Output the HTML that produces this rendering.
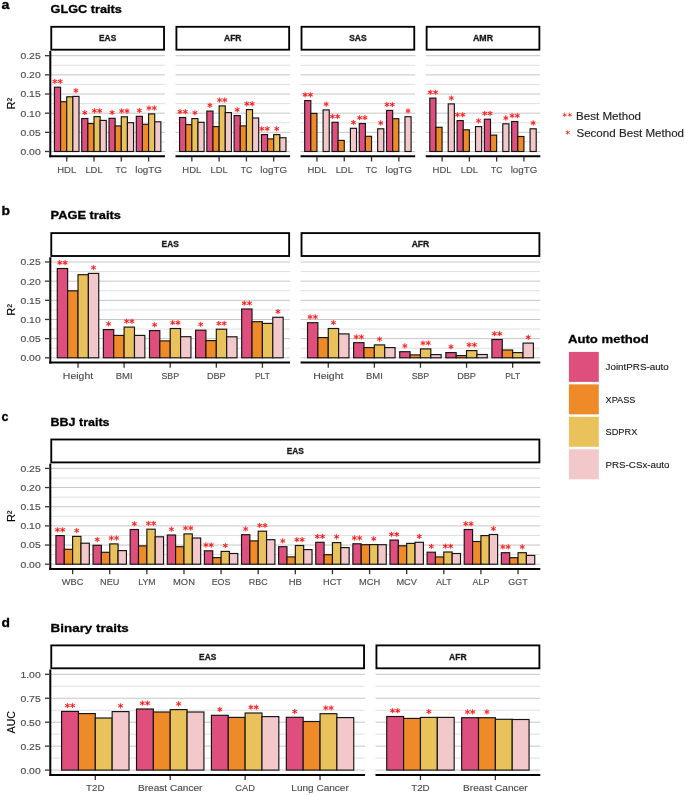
<!DOCTYPE html>
<html><head><meta charset="utf-8"><style>html,body{margin:0;padding:0;background:#fff;width:685px;height:795px;overflow:hidden}svg{display:block}</style></head>
<body><svg width="685" height="795" viewBox="0 0 685 795" font-family='"Liberation Sans", sans-serif'>
<rect width="685" height="795" fill="#fff"/>
<defs><filter id="bl" x="0" y="0" width="685" height="795" filterUnits="userSpaceOnUse"><feOffset dx="0" dy="0"/></filter></defs><g filter="url(#bl)">
<line x1="50.35" x2="164.95" y1="141.92" y2="141.92" stroke="#DCDCDC" stroke-width="0.9"/>
<line x1="50.35" x2="164.95" y1="122.76" y2="122.76" stroke="#DCDCDC" stroke-width="0.9"/>
<line x1="50.35" x2="164.95" y1="103.60" y2="103.60" stroke="#DCDCDC" stroke-width="0.9"/>
<line x1="50.35" x2="164.95" y1="84.44" y2="84.44" stroke="#DCDCDC" stroke-width="0.9"/>
<line x1="50.35" x2="164.95" y1="65.28" y2="65.28" stroke="#DCDCDC" stroke-width="0.9"/>
<line x1="50.35" x2="164.95" y1="151.50" y2="151.50" stroke="#C6C6C6" stroke-width="1.0"/>
<line x1="50.35" x2="164.95" y1="132.34" y2="132.34" stroke="#C6C6C6" stroke-width="1.0"/>
<line x1="50.35" x2="164.95" y1="113.18" y2="113.18" stroke="#C6C6C6" stroke-width="1.0"/>
<line x1="50.35" x2="164.95" y1="94.02" y2="94.02" stroke="#C6C6C6" stroke-width="1.0"/>
<line x1="50.35" x2="164.95" y1="74.86" y2="74.86" stroke="#C6C6C6" stroke-width="1.0"/>
<line x1="50.35" x2="164.95" y1="55.70" y2="55.70" stroke="#C6C6C6" stroke-width="1.0"/>
<rect x="54.44" y="87.20" width="6.14" height="64.30" fill="#DE4F7E" stroke="#141414" stroke-width="1.15"/>
<rect x="60.58" y="101.70" width="6.14" height="49.80" fill="#EE8B28" stroke="#141414" stroke-width="1.15"/>
<rect x="66.72" y="96.80" width="6.14" height="54.70" fill="#E9C25B" stroke="#141414" stroke-width="1.15"/>
<rect x="72.86" y="96.40" width="6.14" height="55.10" fill="#F2C8CB" stroke="#141414" stroke-width="1.15"/>
<line x1="66.72" x2="66.72" y1="156.30" y2="161.50" stroke="#333" stroke-width="1.3"/>
<text x="66.72" y="172.60" font-size="9.70" stroke="#4D4D4D" stroke-width="0.15" fill="#4D4D4D" text-anchor="middle" textLength="19.02" lengthAdjust="spacingAndGlyphs" >HDL</text>
<rect x="81.73" y="118.50" width="6.14" height="33.00" fill="#DE4F7E" stroke="#141414" stroke-width="1.15"/>
<rect x="87.87" y="123.50" width="6.14" height="28.00" fill="#EE8B28" stroke="#141414" stroke-width="1.15"/>
<rect x="94.01" y="116.60" width="6.14" height="34.90" fill="#E9C25B" stroke="#141414" stroke-width="1.15"/>
<rect x="100.15" y="120.40" width="6.14" height="31.10" fill="#F2C8CB" stroke="#141414" stroke-width="1.15"/>
<line x1="94.01" x2="94.01" y1="156.30" y2="161.50" stroke="#333" stroke-width="1.3"/>
<text x="94.01" y="172.60" font-size="9.70" stroke="#4D4D4D" stroke-width="0.15" fill="#4D4D4D" text-anchor="middle" textLength="17.24" lengthAdjust="spacingAndGlyphs" >LDL</text>
<rect x="109.01" y="118.30" width="6.14" height="33.20" fill="#DE4F7E" stroke="#141414" stroke-width="1.15"/>
<rect x="115.15" y="125.90" width="6.14" height="25.60" fill="#EE8B28" stroke="#141414" stroke-width="1.15"/>
<rect x="121.29" y="116.80" width="6.14" height="34.70" fill="#E9C25B" stroke="#141414" stroke-width="1.15"/>
<rect x="127.43" y="122.70" width="6.14" height="28.80" fill="#F2C8CB" stroke="#141414" stroke-width="1.15"/>
<line x1="121.29" x2="121.29" y1="156.30" y2="161.50" stroke="#333" stroke-width="1.3"/>
<text x="121.29" y="172.60" font-size="9.70" stroke="#4D4D4D" stroke-width="0.15" fill="#4D4D4D" text-anchor="middle" textLength="11.44" lengthAdjust="spacingAndGlyphs" >TC</text>
<rect x="136.30" y="116.30" width="6.14" height="35.20" fill="#DE4F7E" stroke="#141414" stroke-width="1.15"/>
<rect x="142.44" y="124.30" width="6.14" height="27.20" fill="#EE8B28" stroke="#141414" stroke-width="1.15"/>
<rect x="148.58" y="113.90" width="6.14" height="37.60" fill="#E9C25B" stroke="#141414" stroke-width="1.15"/>
<rect x="154.72" y="121.80" width="6.14" height="29.70" fill="#F2C8CB" stroke="#141414" stroke-width="1.15"/>
<line x1="148.58" x2="148.58" y1="156.30" y2="161.50" stroke="#333" stroke-width="1.3"/>
<text x="148.58" y="172.60" font-size="9.70" stroke="#4D4D4D" stroke-width="0.15" fill="#4D4D4D" text-anchor="middle" textLength="26.63" lengthAdjust="spacingAndGlyphs" >logTG</text>
<rect x="51.27" y="26.80" width="112.75" height="22.90" fill="#fff" stroke="#000" stroke-width="1.85"/>
<text x="107.65" y="41.15" font-size="8.37" font-weight="bold" stroke="#1A1A1A" stroke-width="0.3" fill="#1A1A1A" text-anchor="middle" textLength="17.20" lengthAdjust="spacingAndGlyphs" >EAS</text>
<line x1="49.35" x2="164.95" y1="156.30" y2="156.30" stroke="#000" stroke-width="2.0"/>
<line x1="50.30" x2="50.30" y1="50.90" y2="157.30" stroke="#000" stroke-width="2.0"/>
<line x1="44.95" x2="49.35" y1="151.50" y2="151.50" stroke="#333" stroke-width="1.3"/>
<text x="40.70" y="154.90" font-size="9.65" stroke="#4D4D4D" stroke-width="0.15" fill="#4D4D4D" text-anchor="end" textLength="20.26" lengthAdjust="spacingAndGlyphs" >0.00</text>
<line x1="44.95" x2="49.35" y1="132.34" y2="132.34" stroke="#333" stroke-width="1.3"/>
<text x="40.70" y="135.74" font-size="9.65" stroke="#4D4D4D" stroke-width="0.15" fill="#4D4D4D" text-anchor="end" textLength="20.26" lengthAdjust="spacingAndGlyphs" >0.05</text>
<line x1="44.95" x2="49.35" y1="113.18" y2="113.18" stroke="#333" stroke-width="1.3"/>
<text x="40.70" y="116.58" font-size="9.65" stroke="#4D4D4D" stroke-width="0.15" fill="#4D4D4D" text-anchor="end" textLength="20.26" lengthAdjust="spacingAndGlyphs" >0.10</text>
<line x1="44.95" x2="49.35" y1="94.02" y2="94.02" stroke="#333" stroke-width="1.3"/>
<text x="40.70" y="97.42" font-size="9.65" stroke="#4D4D4D" stroke-width="0.15" fill="#4D4D4D" text-anchor="end" textLength="20.26" lengthAdjust="spacingAndGlyphs" >0.15</text>
<line x1="44.95" x2="49.35" y1="74.86" y2="74.86" stroke="#333" stroke-width="1.3"/>
<text x="40.70" y="78.26" font-size="9.65" stroke="#4D4D4D" stroke-width="0.15" fill="#4D4D4D" text-anchor="end" textLength="20.26" lengthAdjust="spacingAndGlyphs" >0.20</text>
<line x1="44.95" x2="49.35" y1="55.70" y2="55.70" stroke="#333" stroke-width="1.3"/>
<text x="40.70" y="59.10" font-size="9.65" stroke="#4D4D4D" stroke-width="0.15" fill="#4D4D4D" text-anchor="end" textLength="20.26" lengthAdjust="spacingAndGlyphs" >0.25</text>
<line x1="175.47" x2="290.07" y1="141.92" y2="141.92" stroke="#DCDCDC" stroke-width="0.9"/>
<line x1="175.47" x2="290.07" y1="122.76" y2="122.76" stroke="#DCDCDC" stroke-width="0.9"/>
<line x1="175.47" x2="290.07" y1="103.60" y2="103.60" stroke="#DCDCDC" stroke-width="0.9"/>
<line x1="175.47" x2="290.07" y1="84.44" y2="84.44" stroke="#DCDCDC" stroke-width="0.9"/>
<line x1="175.47" x2="290.07" y1="65.28" y2="65.28" stroke="#DCDCDC" stroke-width="0.9"/>
<line x1="175.47" x2="290.07" y1="151.50" y2="151.50" stroke="#C6C6C6" stroke-width="1.0"/>
<line x1="175.47" x2="290.07" y1="132.34" y2="132.34" stroke="#C6C6C6" stroke-width="1.0"/>
<line x1="175.47" x2="290.07" y1="113.18" y2="113.18" stroke="#C6C6C6" stroke-width="1.0"/>
<line x1="175.47" x2="290.07" y1="94.02" y2="94.02" stroke="#C6C6C6" stroke-width="1.0"/>
<line x1="175.47" x2="290.07" y1="74.86" y2="74.86" stroke="#C6C6C6" stroke-width="1.0"/>
<line x1="175.47" x2="290.07" y1="55.70" y2="55.70" stroke="#C6C6C6" stroke-width="1.0"/>
<rect x="179.56" y="117.50" width="6.14" height="34.00" fill="#DE4F7E" stroke="#141414" stroke-width="1.15"/>
<rect x="185.70" y="124.60" width="6.14" height="26.90" fill="#EE8B28" stroke="#141414" stroke-width="1.15"/>
<rect x="191.84" y="118.60" width="6.14" height="32.90" fill="#E9C25B" stroke="#141414" stroke-width="1.15"/>
<rect x="197.98" y="122.30" width="6.14" height="29.20" fill="#F2C8CB" stroke="#141414" stroke-width="1.15"/>
<line x1="191.84" x2="191.84" y1="156.30" y2="161.50" stroke="#333" stroke-width="1.3"/>
<text x="191.84" y="172.60" font-size="9.70" stroke="#4D4D4D" stroke-width="0.15" fill="#4D4D4D" text-anchor="middle" textLength="19.02" lengthAdjust="spacingAndGlyphs" >HDL</text>
<rect x="206.85" y="111.10" width="6.14" height="40.40" fill="#DE4F7E" stroke="#141414" stroke-width="1.15"/>
<rect x="212.99" y="126.60" width="6.14" height="24.90" fill="#EE8B28" stroke="#141414" stroke-width="1.15"/>
<rect x="219.13" y="105.90" width="6.14" height="45.60" fill="#E9C25B" stroke="#141414" stroke-width="1.15"/>
<rect x="225.27" y="112.60" width="6.14" height="38.90" fill="#F2C8CB" stroke="#141414" stroke-width="1.15"/>
<line x1="219.13" x2="219.13" y1="156.30" y2="161.50" stroke="#333" stroke-width="1.3"/>
<text x="219.13" y="172.60" font-size="9.70" stroke="#4D4D4D" stroke-width="0.15" fill="#4D4D4D" text-anchor="middle" textLength="17.24" lengthAdjust="spacingAndGlyphs" >LDL</text>
<rect x="234.13" y="115.60" width="6.14" height="35.90" fill="#DE4F7E" stroke="#141414" stroke-width="1.15"/>
<rect x="240.27" y="125.90" width="6.14" height="25.60" fill="#EE8B28" stroke="#141414" stroke-width="1.15"/>
<rect x="246.41" y="109.60" width="6.14" height="41.90" fill="#E9C25B" stroke="#141414" stroke-width="1.15"/>
<rect x="252.55" y="118.00" width="6.14" height="33.50" fill="#F2C8CB" stroke="#141414" stroke-width="1.15"/>
<line x1="246.41" x2="246.41" y1="156.30" y2="161.50" stroke="#333" stroke-width="1.3"/>
<text x="246.41" y="172.60" font-size="9.70" stroke="#4D4D4D" stroke-width="0.15" fill="#4D4D4D" text-anchor="middle" textLength="11.44" lengthAdjust="spacingAndGlyphs" >TC</text>
<rect x="261.42" y="134.60" width="6.14" height="16.90" fill="#DE4F7E" stroke="#141414" stroke-width="1.15"/>
<rect x="267.56" y="138.90" width="6.14" height="12.60" fill="#EE8B28" stroke="#141414" stroke-width="1.15"/>
<rect x="273.70" y="134.60" width="6.14" height="16.90" fill="#E9C25B" stroke="#141414" stroke-width="1.15"/>
<rect x="279.84" y="137.70" width="6.14" height="13.80" fill="#F2C8CB" stroke="#141414" stroke-width="1.15"/>
<line x1="273.70" x2="273.70" y1="156.30" y2="161.50" stroke="#333" stroke-width="1.3"/>
<text x="273.70" y="172.60" font-size="9.70" stroke="#4D4D4D" stroke-width="0.15" fill="#4D4D4D" text-anchor="middle" textLength="26.63" lengthAdjust="spacingAndGlyphs" >logTG</text>
<rect x="176.40" y="26.80" width="112.75" height="22.90" fill="#fff" stroke="#000" stroke-width="1.85"/>
<text x="232.77" y="41.15" font-size="8.37" font-weight="bold" stroke="#1A1A1A" stroke-width="0.3" fill="#1A1A1A" text-anchor="middle" textLength="17.59" lengthAdjust="spacingAndGlyphs" >AFR</text>
<line x1="175.47" x2="290.07" y1="156.30" y2="156.30" stroke="#000" stroke-width="2.0"/>
<line x1="300.59" x2="415.19" y1="141.92" y2="141.92" stroke="#DCDCDC" stroke-width="0.9"/>
<line x1="300.59" x2="415.19" y1="122.76" y2="122.76" stroke="#DCDCDC" stroke-width="0.9"/>
<line x1="300.59" x2="415.19" y1="103.60" y2="103.60" stroke="#DCDCDC" stroke-width="0.9"/>
<line x1="300.59" x2="415.19" y1="84.44" y2="84.44" stroke="#DCDCDC" stroke-width="0.9"/>
<line x1="300.59" x2="415.19" y1="65.28" y2="65.28" stroke="#DCDCDC" stroke-width="0.9"/>
<line x1="300.59" x2="415.19" y1="151.50" y2="151.50" stroke="#C6C6C6" stroke-width="1.0"/>
<line x1="300.59" x2="415.19" y1="132.34" y2="132.34" stroke="#C6C6C6" stroke-width="1.0"/>
<line x1="300.59" x2="415.19" y1="113.18" y2="113.18" stroke="#C6C6C6" stroke-width="1.0"/>
<line x1="300.59" x2="415.19" y1="94.02" y2="94.02" stroke="#C6C6C6" stroke-width="1.0"/>
<line x1="300.59" x2="415.19" y1="74.86" y2="74.86" stroke="#C6C6C6" stroke-width="1.0"/>
<line x1="300.59" x2="415.19" y1="55.70" y2="55.70" stroke="#C6C6C6" stroke-width="1.0"/>
<rect x="304.68" y="100.60" width="6.14" height="50.90" fill="#DE4F7E" stroke="#141414" stroke-width="1.15"/>
<rect x="310.82" y="113.40" width="6.14" height="38.10" fill="#EE8B28" stroke="#141414" stroke-width="1.15"/>
<rect x="323.10" y="109.90" width="6.14" height="41.60" fill="#F2C8CB" stroke="#141414" stroke-width="1.15"/>
<line x1="316.96" x2="316.96" y1="156.30" y2="161.50" stroke="#333" stroke-width="1.3"/>
<text x="316.96" y="172.60" font-size="9.70" stroke="#4D4D4D" stroke-width="0.15" fill="#4D4D4D" text-anchor="middle" textLength="19.02" lengthAdjust="spacingAndGlyphs" >HDL</text>
<rect x="331.97" y="122.30" width="6.14" height="29.20" fill="#DE4F7E" stroke="#141414" stroke-width="1.15"/>
<rect x="338.11" y="140.40" width="6.14" height="11.10" fill="#EE8B28" stroke="#141414" stroke-width="1.15"/>
<rect x="350.39" y="128.30" width="6.14" height="23.20" fill="#F2C8CB" stroke="#141414" stroke-width="1.15"/>
<line x1="344.25" x2="344.25" y1="156.30" y2="161.50" stroke="#333" stroke-width="1.3"/>
<text x="344.25" y="172.60" font-size="9.70" stroke="#4D4D4D" stroke-width="0.15" fill="#4D4D4D" text-anchor="middle" textLength="17.24" lengthAdjust="spacingAndGlyphs" >LDL</text>
<rect x="359.25" y="123.50" width="6.14" height="28.00" fill="#DE4F7E" stroke="#141414" stroke-width="1.15"/>
<rect x="365.39" y="136.30" width="6.14" height="15.20" fill="#EE8B28" stroke="#141414" stroke-width="1.15"/>
<rect x="377.67" y="128.80" width="6.14" height="22.70" fill="#F2C8CB" stroke="#141414" stroke-width="1.15"/>
<line x1="371.53" x2="371.53" y1="156.30" y2="161.50" stroke="#333" stroke-width="1.3"/>
<text x="371.53" y="172.60" font-size="9.70" stroke="#4D4D4D" stroke-width="0.15" fill="#4D4D4D" text-anchor="middle" textLength="11.44" lengthAdjust="spacingAndGlyphs" >TC</text>
<rect x="386.54" y="110.40" width="6.14" height="41.10" fill="#DE4F7E" stroke="#141414" stroke-width="1.15"/>
<rect x="392.68" y="118.70" width="6.14" height="32.80" fill="#EE8B28" stroke="#141414" stroke-width="1.15"/>
<rect x="404.96" y="116.70" width="6.14" height="34.80" fill="#F2C8CB" stroke="#141414" stroke-width="1.15"/>
<line x1="398.82" x2="398.82" y1="156.30" y2="161.50" stroke="#333" stroke-width="1.3"/>
<text x="398.82" y="172.60" font-size="9.70" stroke="#4D4D4D" stroke-width="0.15" fill="#4D4D4D" text-anchor="middle" textLength="26.63" lengthAdjust="spacingAndGlyphs" >logTG</text>
<rect x="301.51" y="26.80" width="112.75" height="22.90" fill="#fff" stroke="#000" stroke-width="1.85"/>
<text x="357.89" y="41.15" font-size="8.37" font-weight="bold" stroke="#1A1A1A" stroke-width="0.3" fill="#1A1A1A" text-anchor="middle" textLength="17.49" lengthAdjust="spacingAndGlyphs" >SAS</text>
<line x1="300.59" x2="415.19" y1="156.30" y2="156.30" stroke="#000" stroke-width="2.0"/>
<line x1="425.71" x2="540.31" y1="141.92" y2="141.92" stroke="#DCDCDC" stroke-width="0.9"/>
<line x1="425.71" x2="540.31" y1="122.76" y2="122.76" stroke="#DCDCDC" stroke-width="0.9"/>
<line x1="425.71" x2="540.31" y1="103.60" y2="103.60" stroke="#DCDCDC" stroke-width="0.9"/>
<line x1="425.71" x2="540.31" y1="84.44" y2="84.44" stroke="#DCDCDC" stroke-width="0.9"/>
<line x1="425.71" x2="540.31" y1="65.28" y2="65.28" stroke="#DCDCDC" stroke-width="0.9"/>
<line x1="425.71" x2="540.31" y1="151.50" y2="151.50" stroke="#C6C6C6" stroke-width="1.0"/>
<line x1="425.71" x2="540.31" y1="132.34" y2="132.34" stroke="#C6C6C6" stroke-width="1.0"/>
<line x1="425.71" x2="540.31" y1="113.18" y2="113.18" stroke="#C6C6C6" stroke-width="1.0"/>
<line x1="425.71" x2="540.31" y1="94.02" y2="94.02" stroke="#C6C6C6" stroke-width="1.0"/>
<line x1="425.71" x2="540.31" y1="74.86" y2="74.86" stroke="#C6C6C6" stroke-width="1.0"/>
<line x1="425.71" x2="540.31" y1="55.70" y2="55.70" stroke="#C6C6C6" stroke-width="1.0"/>
<rect x="429.80" y="98.10" width="6.14" height="53.40" fill="#DE4F7E" stroke="#141414" stroke-width="1.15"/>
<rect x="435.94" y="127.30" width="6.14" height="24.20" fill="#EE8B28" stroke="#141414" stroke-width="1.15"/>
<rect x="448.22" y="103.90" width="6.14" height="47.60" fill="#F2C8CB" stroke="#141414" stroke-width="1.15"/>
<line x1="442.08" x2="442.08" y1="156.30" y2="161.50" stroke="#333" stroke-width="1.3"/>
<text x="442.08" y="172.60" font-size="9.70" stroke="#4D4D4D" stroke-width="0.15" fill="#4D4D4D" text-anchor="middle" textLength="19.02" lengthAdjust="spacingAndGlyphs" >HDL</text>
<rect x="457.09" y="120.60" width="6.14" height="30.90" fill="#DE4F7E" stroke="#141414" stroke-width="1.15"/>
<rect x="463.23" y="129.80" width="6.14" height="21.70" fill="#EE8B28" stroke="#141414" stroke-width="1.15"/>
<rect x="475.51" y="126.60" width="6.14" height="24.90" fill="#F2C8CB" stroke="#141414" stroke-width="1.15"/>
<line x1="469.37" x2="469.37" y1="156.30" y2="161.50" stroke="#333" stroke-width="1.3"/>
<text x="469.37" y="172.60" font-size="9.70" stroke="#4D4D4D" stroke-width="0.15" fill="#4D4D4D" text-anchor="middle" textLength="17.24" lengthAdjust="spacingAndGlyphs" >LDL</text>
<rect x="484.37" y="119.20" width="6.14" height="32.30" fill="#DE4F7E" stroke="#141414" stroke-width="1.15"/>
<rect x="490.51" y="135.10" width="6.14" height="16.40" fill="#EE8B28" stroke="#141414" stroke-width="1.15"/>
<rect x="502.79" y="123.80" width="6.14" height="27.70" fill="#F2C8CB" stroke="#141414" stroke-width="1.15"/>
<line x1="496.65" x2="496.65" y1="156.30" y2="161.50" stroke="#333" stroke-width="1.3"/>
<text x="496.65" y="172.60" font-size="9.70" stroke="#4D4D4D" stroke-width="0.15" fill="#4D4D4D" text-anchor="middle" textLength="11.44" lengthAdjust="spacingAndGlyphs" >TC</text>
<rect x="511.66" y="121.50" width="6.14" height="30.00" fill="#DE4F7E" stroke="#141414" stroke-width="1.15"/>
<rect x="517.80" y="136.50" width="6.14" height="15.00" fill="#EE8B28" stroke="#141414" stroke-width="1.15"/>
<rect x="530.08" y="128.80" width="6.14" height="22.70" fill="#F2C8CB" stroke="#141414" stroke-width="1.15"/>
<line x1="523.94" x2="523.94" y1="156.30" y2="161.50" stroke="#333" stroke-width="1.3"/>
<text x="523.94" y="172.60" font-size="9.70" stroke="#4D4D4D" stroke-width="0.15" fill="#4D4D4D" text-anchor="middle" textLength="26.63" lengthAdjust="spacingAndGlyphs" >logTG</text>
<rect x="426.63" y="26.80" width="112.75" height="22.90" fill="#fff" stroke="#000" stroke-width="1.85"/>
<text x="483.01" y="41.15" font-size="8.37" font-weight="bold" stroke="#1A1A1A" stroke-width="0.3" fill="#1A1A1A" text-anchor="middle" textLength="20.06" lengthAdjust="spacingAndGlyphs" >AMR</text>
<line x1="425.71" x2="540.31" y1="156.30" y2="156.30" stroke="#000" stroke-width="2.0"/>
<line x1="50.35" x2="290.07" y1="348.22" y2="348.22" stroke="#DCDCDC" stroke-width="0.9"/>
<line x1="50.35" x2="290.07" y1="329.06" y2="329.06" stroke="#DCDCDC" stroke-width="0.9"/>
<line x1="50.35" x2="290.07" y1="309.90" y2="309.90" stroke="#DCDCDC" stroke-width="0.9"/>
<line x1="50.35" x2="290.07" y1="290.74" y2="290.74" stroke="#DCDCDC" stroke-width="0.9"/>
<line x1="50.35" x2="290.07" y1="271.58" y2="271.58" stroke="#DCDCDC" stroke-width="0.9"/>
<line x1="50.35" x2="290.07" y1="357.80" y2="357.80" stroke="#C6C6C6" stroke-width="1.0"/>
<line x1="50.35" x2="290.07" y1="338.64" y2="338.64" stroke="#C6C6C6" stroke-width="1.0"/>
<line x1="50.35" x2="290.07" y1="319.48" y2="319.48" stroke="#C6C6C6" stroke-width="1.0"/>
<line x1="50.35" x2="290.07" y1="300.32" y2="300.32" stroke="#C6C6C6" stroke-width="1.0"/>
<line x1="50.35" x2="290.07" y1="281.16" y2="281.16" stroke="#C6C6C6" stroke-width="1.0"/>
<line x1="50.35" x2="290.07" y1="262.00" y2="262.00" stroke="#C6C6C6" stroke-width="1.0"/>
<rect x="57.27" y="268.50" width="10.37" height="89.30" fill="#DE4F7E" stroke="#141414" stroke-width="1.15"/>
<rect x="67.64" y="290.80" width="10.37" height="67.00" fill="#EE8B28" stroke="#141414" stroke-width="1.15"/>
<rect x="78.01" y="274.70" width="10.37" height="83.10" fill="#E9C25B" stroke="#141414" stroke-width="1.15"/>
<rect x="88.38" y="273.40" width="10.37" height="84.40" fill="#F2C8CB" stroke="#141414" stroke-width="1.15"/>
<line x1="78.01" x2="78.01" y1="362.60" y2="367.80" stroke="#333" stroke-width="1.3"/>
<text x="78.01" y="378.90" font-size="9.70" stroke="#4D4D4D" stroke-width="0.15" fill="#4D4D4D" text-anchor="middle" textLength="30.25" lengthAdjust="spacingAndGlyphs" >Height</text>
<rect x="103.37" y="329.60" width="10.37" height="28.20" fill="#DE4F7E" stroke="#141414" stroke-width="1.15"/>
<rect x="113.74" y="335.40" width="10.37" height="22.40" fill="#EE8B28" stroke="#141414" stroke-width="1.15"/>
<rect x="124.11" y="327.10" width="10.37" height="30.70" fill="#E9C25B" stroke="#141414" stroke-width="1.15"/>
<rect x="134.48" y="335.40" width="10.37" height="22.40" fill="#F2C8CB" stroke="#141414" stroke-width="1.15"/>
<line x1="124.11" x2="124.11" y1="362.60" y2="367.80" stroke="#333" stroke-width="1.3"/>
<text x="124.11" y="378.90" font-size="9.70" stroke="#4D4D4D" stroke-width="0.15" fill="#4D4D4D" text-anchor="middle" textLength="16.87" lengthAdjust="spacingAndGlyphs" >BMI</text>
<rect x="149.47" y="330.60" width="10.37" height="27.20" fill="#DE4F7E" stroke="#141414" stroke-width="1.15"/>
<rect x="159.84" y="340.90" width="10.37" height="16.90" fill="#EE8B28" stroke="#141414" stroke-width="1.15"/>
<rect x="170.21" y="328.50" width="10.37" height="29.30" fill="#E9C25B" stroke="#141414" stroke-width="1.15"/>
<rect x="180.58" y="336.70" width="10.37" height="21.10" fill="#F2C8CB" stroke="#141414" stroke-width="1.15"/>
<line x1="170.21" x2="170.21" y1="362.60" y2="367.80" stroke="#333" stroke-width="1.3"/>
<text x="170.21" y="378.90" font-size="9.70" stroke="#4D4D4D" stroke-width="0.15" fill="#4D4D4D" text-anchor="middle" textLength="17.60" lengthAdjust="spacingAndGlyphs" >SBP</text>
<rect x="195.56" y="330.20" width="10.37" height="27.60" fill="#DE4F7E" stroke="#141414" stroke-width="1.15"/>
<rect x="205.94" y="340.60" width="10.37" height="17.20" fill="#EE8B28" stroke="#141414" stroke-width="1.15"/>
<rect x="216.31" y="329.20" width="10.37" height="28.60" fill="#E9C25B" stroke="#141414" stroke-width="1.15"/>
<rect x="226.68" y="336.80" width="10.37" height="21.00" fill="#F2C8CB" stroke="#141414" stroke-width="1.15"/>
<line x1="216.31" x2="216.31" y1="362.60" y2="367.80" stroke="#333" stroke-width="1.3"/>
<text x="216.31" y="378.90" font-size="9.70" stroke="#4D4D4D" stroke-width="0.15" fill="#4D4D4D" text-anchor="middle" textLength="18.84" lengthAdjust="spacingAndGlyphs" >DBP</text>
<rect x="241.67" y="309.00" width="10.37" height="48.80" fill="#DE4F7E" stroke="#141414" stroke-width="1.15"/>
<rect x="252.04" y="321.70" width="10.37" height="36.10" fill="#EE8B28" stroke="#141414" stroke-width="1.15"/>
<rect x="262.41" y="323.40" width="10.37" height="34.40" fill="#E9C25B" stroke="#141414" stroke-width="1.15"/>
<rect x="272.78" y="317.30" width="10.37" height="40.50" fill="#F2C8CB" stroke="#141414" stroke-width="1.15"/>
<line x1="262.41" x2="262.41" y1="362.60" y2="367.80" stroke="#333" stroke-width="1.3"/>
<text x="262.41" y="378.90" font-size="9.70" stroke="#4D4D4D" stroke-width="0.15" fill="#4D4D4D" text-anchor="middle" textLength="14.94" lengthAdjust="spacingAndGlyphs" >PLT</text>
<rect x="51.27" y="233.10" width="237.87" height="22.90" fill="#fff" stroke="#000" stroke-width="1.85"/>
<text x="170.21" y="247.45" font-size="8.37" font-weight="bold" stroke="#1A1A1A" stroke-width="0.3" fill="#1A1A1A" text-anchor="middle" textLength="17.20" lengthAdjust="spacingAndGlyphs" >EAS</text>
<line x1="49.35" x2="290.07" y1="362.60" y2="362.60" stroke="#000" stroke-width="2.0"/>
<line x1="50.30" x2="50.30" y1="257.20" y2="363.60" stroke="#000" stroke-width="2.0"/>
<line x1="44.95" x2="49.35" y1="357.80" y2="357.80" stroke="#333" stroke-width="1.3"/>
<text x="40.70" y="361.20" font-size="9.65" stroke="#4D4D4D" stroke-width="0.15" fill="#4D4D4D" text-anchor="end" textLength="20.26" lengthAdjust="spacingAndGlyphs" >0.00</text>
<line x1="44.95" x2="49.35" y1="338.64" y2="338.64" stroke="#333" stroke-width="1.3"/>
<text x="40.70" y="342.04" font-size="9.65" stroke="#4D4D4D" stroke-width="0.15" fill="#4D4D4D" text-anchor="end" textLength="20.26" lengthAdjust="spacingAndGlyphs" >0.05</text>
<line x1="44.95" x2="49.35" y1="319.48" y2="319.48" stroke="#333" stroke-width="1.3"/>
<text x="40.70" y="322.88" font-size="9.65" stroke="#4D4D4D" stroke-width="0.15" fill="#4D4D4D" text-anchor="end" textLength="20.26" lengthAdjust="spacingAndGlyphs" >0.10</text>
<line x1="44.95" x2="49.35" y1="300.32" y2="300.32" stroke="#333" stroke-width="1.3"/>
<text x="40.70" y="303.72" font-size="9.65" stroke="#4D4D4D" stroke-width="0.15" fill="#4D4D4D" text-anchor="end" textLength="20.26" lengthAdjust="spacingAndGlyphs" >0.15</text>
<line x1="44.95" x2="49.35" y1="281.16" y2="281.16" stroke="#333" stroke-width="1.3"/>
<text x="40.70" y="284.56" font-size="9.65" stroke="#4D4D4D" stroke-width="0.15" fill="#4D4D4D" text-anchor="end" textLength="20.26" lengthAdjust="spacingAndGlyphs" >0.20</text>
<line x1="44.95" x2="49.35" y1="262.00" y2="262.00" stroke="#333" stroke-width="1.3"/>
<text x="40.70" y="265.40" font-size="9.65" stroke="#4D4D4D" stroke-width="0.15" fill="#4D4D4D" text-anchor="end" textLength="20.26" lengthAdjust="spacingAndGlyphs" >0.25</text>
<line x1="300.59" x2="540.31" y1="348.22" y2="348.22" stroke="#DCDCDC" stroke-width="0.9"/>
<line x1="300.59" x2="540.31" y1="329.06" y2="329.06" stroke="#DCDCDC" stroke-width="0.9"/>
<line x1="300.59" x2="540.31" y1="309.90" y2="309.90" stroke="#DCDCDC" stroke-width="0.9"/>
<line x1="300.59" x2="540.31" y1="290.74" y2="290.74" stroke="#DCDCDC" stroke-width="0.9"/>
<line x1="300.59" x2="540.31" y1="271.58" y2="271.58" stroke="#DCDCDC" stroke-width="0.9"/>
<line x1="300.59" x2="540.31" y1="357.80" y2="357.80" stroke="#C6C6C6" stroke-width="1.0"/>
<line x1="300.59" x2="540.31" y1="338.64" y2="338.64" stroke="#C6C6C6" stroke-width="1.0"/>
<line x1="300.59" x2="540.31" y1="319.48" y2="319.48" stroke="#C6C6C6" stroke-width="1.0"/>
<line x1="300.59" x2="540.31" y1="300.32" y2="300.32" stroke="#C6C6C6" stroke-width="1.0"/>
<line x1="300.59" x2="540.31" y1="281.16" y2="281.16" stroke="#C6C6C6" stroke-width="1.0"/>
<line x1="300.59" x2="540.31" y1="262.00" y2="262.00" stroke="#C6C6C6" stroke-width="1.0"/>
<rect x="307.51" y="322.70" width="10.37" height="35.10" fill="#DE4F7E" stroke="#141414" stroke-width="1.15"/>
<rect x="317.88" y="337.60" width="10.37" height="20.20" fill="#EE8B28" stroke="#141414" stroke-width="1.15"/>
<rect x="328.25" y="328.50" width="10.37" height="29.30" fill="#E9C25B" stroke="#141414" stroke-width="1.15"/>
<rect x="338.62" y="333.90" width="10.37" height="23.90" fill="#F2C8CB" stroke="#141414" stroke-width="1.15"/>
<line x1="328.25" x2="328.25" y1="362.60" y2="367.80" stroke="#333" stroke-width="1.3"/>
<text x="328.25" y="378.90" font-size="9.70" stroke="#4D4D4D" stroke-width="0.15" fill="#4D4D4D" text-anchor="middle" textLength="30.25" lengthAdjust="spacingAndGlyphs" >Height</text>
<rect x="353.61" y="342.70" width="10.37" height="15.10" fill="#DE4F7E" stroke="#141414" stroke-width="1.15"/>
<rect x="363.98" y="347.60" width="10.37" height="10.20" fill="#EE8B28" stroke="#141414" stroke-width="1.15"/>
<rect x="374.35" y="344.90" width="10.37" height="12.90" fill="#E9C25B" stroke="#141414" stroke-width="1.15"/>
<rect x="384.72" y="347.60" width="10.37" height="10.20" fill="#F2C8CB" stroke="#141414" stroke-width="1.15"/>
<line x1="374.35" x2="374.35" y1="362.60" y2="367.80" stroke="#333" stroke-width="1.3"/>
<text x="374.35" y="378.90" font-size="9.70" stroke="#4D4D4D" stroke-width="0.15" fill="#4D4D4D" text-anchor="middle" textLength="16.87" lengthAdjust="spacingAndGlyphs" >BMI</text>
<rect x="399.71" y="351.70" width="10.37" height="6.10" fill="#DE4F7E" stroke="#141414" stroke-width="1.15"/>
<rect x="410.08" y="354.90" width="10.37" height="2.90" fill="#EE8B28" stroke="#141414" stroke-width="1.15"/>
<rect x="420.45" y="348.90" width="10.37" height="8.90" fill="#E9C25B" stroke="#141414" stroke-width="1.15"/>
<rect x="430.82" y="354.60" width="10.37" height="3.20" fill="#F2C8CB" stroke="#141414" stroke-width="1.15"/>
<line x1="420.45" x2="420.45" y1="362.60" y2="367.80" stroke="#333" stroke-width="1.3"/>
<text x="420.45" y="378.90" font-size="9.70" stroke="#4D4D4D" stroke-width="0.15" fill="#4D4D4D" text-anchor="middle" textLength="17.60" lengthAdjust="spacingAndGlyphs" >SBP</text>
<rect x="445.81" y="352.60" width="10.37" height="5.20" fill="#DE4F7E" stroke="#141414" stroke-width="1.15"/>
<rect x="456.18" y="355.60" width="10.37" height="2.20" fill="#EE8B28" stroke="#141414" stroke-width="1.15"/>
<rect x="466.55" y="350.60" width="10.37" height="7.20" fill="#E9C25B" stroke="#141414" stroke-width="1.15"/>
<rect x="476.92" y="354.50" width="10.37" height="3.30" fill="#F2C8CB" stroke="#141414" stroke-width="1.15"/>
<line x1="466.55" x2="466.55" y1="362.60" y2="367.80" stroke="#333" stroke-width="1.3"/>
<text x="466.55" y="378.90" font-size="9.70" stroke="#4D4D4D" stroke-width="0.15" fill="#4D4D4D" text-anchor="middle" textLength="18.84" lengthAdjust="spacingAndGlyphs" >DBP</text>
<rect x="491.91" y="339.50" width="10.37" height="18.30" fill="#DE4F7E" stroke="#141414" stroke-width="1.15"/>
<rect x="502.28" y="350.00" width="10.37" height="7.80" fill="#EE8B28" stroke="#141414" stroke-width="1.15"/>
<rect x="512.65" y="352.60" width="10.37" height="5.20" fill="#E9C25B" stroke="#141414" stroke-width="1.15"/>
<rect x="523.02" y="343.10" width="10.37" height="14.70" fill="#F2C8CB" stroke="#141414" stroke-width="1.15"/>
<line x1="512.65" x2="512.65" y1="362.60" y2="367.80" stroke="#333" stroke-width="1.3"/>
<text x="512.65" y="378.90" font-size="9.70" stroke="#4D4D4D" stroke-width="0.15" fill="#4D4D4D" text-anchor="middle" textLength="14.94" lengthAdjust="spacingAndGlyphs" >PLT</text>
<rect x="301.52" y="233.10" width="237.87" height="22.90" fill="#fff" stroke="#000" stroke-width="1.85"/>
<text x="420.45" y="247.45" font-size="8.37" font-weight="bold" stroke="#1A1A1A" stroke-width="0.3" fill="#1A1A1A" text-anchor="middle" textLength="17.59" lengthAdjust="spacingAndGlyphs" >AFR</text>
<line x1="300.59" x2="540.31" y1="362.60" y2="362.60" stroke="#000" stroke-width="2.0"/>
<line x1="50.35" x2="540.31" y1="554.62" y2="554.62" stroke="#DCDCDC" stroke-width="0.9"/>
<line x1="50.35" x2="540.31" y1="535.46" y2="535.46" stroke="#DCDCDC" stroke-width="0.9"/>
<line x1="50.35" x2="540.31" y1="516.30" y2="516.30" stroke="#DCDCDC" stroke-width="0.9"/>
<line x1="50.35" x2="540.31" y1="497.14" y2="497.14" stroke="#DCDCDC" stroke-width="0.9"/>
<line x1="50.35" x2="540.31" y1="477.98" y2="477.98" stroke="#DCDCDC" stroke-width="0.9"/>
<line x1="50.35" x2="540.31" y1="564.20" y2="564.20" stroke="#C6C6C6" stroke-width="1.0"/>
<line x1="50.35" x2="540.31" y1="545.04" y2="545.04" stroke="#C6C6C6" stroke-width="1.0"/>
<line x1="50.35" x2="540.31" y1="525.88" y2="525.88" stroke="#C6C6C6" stroke-width="1.0"/>
<line x1="50.35" x2="540.31" y1="506.72" y2="506.72" stroke="#C6C6C6" stroke-width="1.0"/>
<line x1="50.35" x2="540.31" y1="487.56" y2="487.56" stroke="#C6C6C6" stroke-width="1.0"/>
<line x1="50.35" x2="540.31" y1="468.40" y2="468.40" stroke="#C6C6C6" stroke-width="1.0"/>
<rect x="55.92" y="535.60" width="8.35" height="28.60" fill="#DE4F7E" stroke="#141414" stroke-width="1.15"/>
<rect x="64.27" y="549.30" width="8.35" height="14.90" fill="#EE8B28" stroke="#141414" stroke-width="1.15"/>
<rect x="72.62" y="536.40" width="8.35" height="27.80" fill="#E9C25B" stroke="#141414" stroke-width="1.15"/>
<rect x="80.97" y="543.20" width="8.35" height="21.00" fill="#F2C8CB" stroke="#141414" stroke-width="1.15"/>
<line x1="72.62" x2="72.62" y1="569.00" y2="574.20" stroke="#333" stroke-width="1.3"/>
<text x="72.62" y="585.30" font-size="9.70" stroke="#4D4D4D" stroke-width="0.15" fill="#4D4D4D" text-anchor="middle" textLength="21.55" lengthAdjust="spacingAndGlyphs" >WBC</text>
<rect x="93.04" y="545.30" width="8.35" height="18.90" fill="#DE4F7E" stroke="#141414" stroke-width="1.15"/>
<rect x="101.39" y="552.30" width="8.35" height="11.90" fill="#EE8B28" stroke="#141414" stroke-width="1.15"/>
<rect x="109.74" y="543.90" width="8.35" height="20.30" fill="#E9C25B" stroke="#141414" stroke-width="1.15"/>
<rect x="118.09" y="550.60" width="8.35" height="13.60" fill="#F2C8CB" stroke="#141414" stroke-width="1.15"/>
<line x1="109.74" x2="109.74" y1="569.00" y2="574.20" stroke="#333" stroke-width="1.3"/>
<text x="109.74" y="585.30" font-size="9.70" stroke="#4D4D4D" stroke-width="0.15" fill="#4D4D4D" text-anchor="middle" textLength="19.32" lengthAdjust="spacingAndGlyphs" >NEU</text>
<rect x="130.15" y="529.50" width="8.35" height="34.70" fill="#DE4F7E" stroke="#141414" stroke-width="1.15"/>
<rect x="138.51" y="545.90" width="8.35" height="18.30" fill="#EE8B28" stroke="#141414" stroke-width="1.15"/>
<rect x="146.86" y="529.20" width="8.35" height="35.00" fill="#E9C25B" stroke="#141414" stroke-width="1.15"/>
<rect x="155.21" y="536.80" width="8.35" height="27.40" fill="#F2C8CB" stroke="#141414" stroke-width="1.15"/>
<line x1="146.86" x2="146.86" y1="569.00" y2="574.20" stroke="#333" stroke-width="1.3"/>
<text x="146.86" y="585.30" font-size="9.70" stroke="#4D4D4D" stroke-width="0.15" fill="#4D4D4D" text-anchor="middle" textLength="17.37" lengthAdjust="spacingAndGlyphs" >LYM</text>
<rect x="167.27" y="535.00" width="8.35" height="29.20" fill="#DE4F7E" stroke="#141414" stroke-width="1.15"/>
<rect x="175.62" y="546.70" width="8.35" height="17.50" fill="#EE8B28" stroke="#141414" stroke-width="1.15"/>
<rect x="183.98" y="533.90" width="8.35" height="30.30" fill="#E9C25B" stroke="#141414" stroke-width="1.15"/>
<rect x="192.33" y="538.00" width="8.35" height="26.20" fill="#F2C8CB" stroke="#141414" stroke-width="1.15"/>
<line x1="183.98" x2="183.98" y1="569.00" y2="574.20" stroke="#333" stroke-width="1.3"/>
<text x="183.98" y="585.30" font-size="9.70" stroke="#4D4D4D" stroke-width="0.15" fill="#4D4D4D" text-anchor="middle" textLength="21.94" lengthAdjust="spacingAndGlyphs" >MON</text>
<rect x="204.39" y="550.80" width="8.35" height="13.40" fill="#DE4F7E" stroke="#141414" stroke-width="1.15"/>
<rect x="212.74" y="557.60" width="8.35" height="6.60" fill="#EE8B28" stroke="#141414" stroke-width="1.15"/>
<rect x="221.09" y="551.40" width="8.35" height="12.80" fill="#E9C25B" stroke="#141414" stroke-width="1.15"/>
<rect x="229.45" y="553.50" width="8.35" height="10.70" fill="#F2C8CB" stroke="#141414" stroke-width="1.15"/>
<line x1="221.09" x2="221.09" y1="569.00" y2="574.20" stroke="#333" stroke-width="1.3"/>
<text x="221.09" y="585.30" font-size="9.70" stroke="#4D4D4D" stroke-width="0.15" fill="#4D4D4D" text-anchor="middle" textLength="18.79" lengthAdjust="spacingAndGlyphs" >EOS</text>
<rect x="241.51" y="534.70" width="8.35" height="29.50" fill="#DE4F7E" stroke="#141414" stroke-width="1.15"/>
<rect x="249.86" y="540.90" width="8.35" height="23.30" fill="#EE8B28" stroke="#141414" stroke-width="1.15"/>
<rect x="258.21" y="531.20" width="8.35" height="33.00" fill="#E9C25B" stroke="#141414" stroke-width="1.15"/>
<rect x="266.56" y="539.70" width="8.35" height="24.50" fill="#F2C8CB" stroke="#141414" stroke-width="1.15"/>
<line x1="258.21" x2="258.21" y1="569.00" y2="574.20" stroke="#333" stroke-width="1.3"/>
<text x="258.21" y="585.30" font-size="9.70" stroke="#4D4D4D" stroke-width="0.15" fill="#4D4D4D" text-anchor="middle" textLength="18.86" lengthAdjust="spacingAndGlyphs" >RBC</text>
<rect x="278.63" y="546.70" width="8.35" height="17.50" fill="#DE4F7E" stroke="#141414" stroke-width="1.15"/>
<rect x="286.98" y="556.90" width="8.35" height="7.30" fill="#EE8B28" stroke="#141414" stroke-width="1.15"/>
<rect x="295.33" y="545.50" width="8.35" height="18.70" fill="#E9C25B" stroke="#141414" stroke-width="1.15"/>
<rect x="303.68" y="549.60" width="8.35" height="14.60" fill="#F2C8CB" stroke="#141414" stroke-width="1.15"/>
<line x1="295.33" x2="295.33" y1="569.00" y2="574.20" stroke="#333" stroke-width="1.3"/>
<text x="295.33" y="585.30" font-size="9.70" stroke="#4D4D4D" stroke-width="0.15" fill="#4D4D4D" text-anchor="middle" textLength="13.16" lengthAdjust="spacingAndGlyphs" >HB</text>
<rect x="315.75" y="542.30" width="8.35" height="21.90" fill="#DE4F7E" stroke="#141414" stroke-width="1.15"/>
<rect x="324.10" y="554.70" width="8.35" height="9.50" fill="#EE8B28" stroke="#141414" stroke-width="1.15"/>
<rect x="332.45" y="542.60" width="8.35" height="21.60" fill="#E9C25B" stroke="#141414" stroke-width="1.15"/>
<rect x="340.80" y="547.60" width="8.35" height="16.60" fill="#F2C8CB" stroke="#141414" stroke-width="1.15"/>
<line x1="332.45" x2="332.45" y1="569.00" y2="574.20" stroke="#333" stroke-width="1.3"/>
<text x="332.45" y="585.30" font-size="9.70" stroke="#4D4D4D" stroke-width="0.15" fill="#4D4D4D" text-anchor="middle" textLength="18.86" lengthAdjust="spacingAndGlyphs" >HCT</text>
<rect x="352.86" y="543.80" width="8.35" height="20.40" fill="#DE4F7E" stroke="#141414" stroke-width="1.15"/>
<rect x="361.21" y="544.70" width="8.35" height="19.50" fill="#EE8B28" stroke="#141414" stroke-width="1.15"/>
<rect x="369.57" y="544.60" width="8.35" height="19.60" fill="#E9C25B" stroke="#141414" stroke-width="1.15"/>
<rect x="377.92" y="544.70" width="8.35" height="19.50" fill="#F2C8CB" stroke="#141414" stroke-width="1.15"/>
<line x1="369.57" x2="369.57" y1="569.00" y2="574.20" stroke="#333" stroke-width="1.3"/>
<text x="369.57" y="585.30" font-size="9.70" stroke="#4D4D4D" stroke-width="0.15" fill="#4D4D4D" text-anchor="middle" textLength="21.16" lengthAdjust="spacingAndGlyphs" >MCH</text>
<rect x="389.98" y="540.10" width="8.35" height="24.10" fill="#DE4F7E" stroke="#141414" stroke-width="1.15"/>
<rect x="398.33" y="545.80" width="8.35" height="18.40" fill="#EE8B28" stroke="#141414" stroke-width="1.15"/>
<rect x="406.68" y="543.40" width="8.35" height="20.80" fill="#E9C25B" stroke="#141414" stroke-width="1.15"/>
<rect x="415.04" y="542.30" width="8.35" height="21.90" fill="#F2C8CB" stroke="#141414" stroke-width="1.15"/>
<line x1="406.68" x2="406.68" y1="569.00" y2="574.20" stroke="#333" stroke-width="1.3"/>
<text x="406.68" y="585.30" font-size="9.70" stroke="#4D4D4D" stroke-width="0.15" fill="#4D4D4D" text-anchor="middle" textLength="20.54" lengthAdjust="spacingAndGlyphs" >MCV</text>
<rect x="427.10" y="552.20" width="8.35" height="12.00" fill="#DE4F7E" stroke="#141414" stroke-width="1.15"/>
<rect x="435.45" y="556.90" width="8.35" height="7.30" fill="#EE8B28" stroke="#141414" stroke-width="1.15"/>
<rect x="443.80" y="552.00" width="8.35" height="12.20" fill="#E9C25B" stroke="#141414" stroke-width="1.15"/>
<rect x="452.15" y="553.50" width="8.35" height="10.70" fill="#F2C8CB" stroke="#141414" stroke-width="1.15"/>
<line x1="443.80" x2="443.80" y1="569.00" y2="574.20" stroke="#333" stroke-width="1.3"/>
<text x="443.80" y="585.30" font-size="9.70" stroke="#4D4D4D" stroke-width="0.15" fill="#4D4D4D" text-anchor="middle" textLength="15.69" lengthAdjust="spacingAndGlyphs" >ALT</text>
<rect x="464.22" y="529.50" width="8.35" height="34.70" fill="#DE4F7E" stroke="#141414" stroke-width="1.15"/>
<rect x="472.57" y="541.50" width="8.35" height="22.70" fill="#EE8B28" stroke="#141414" stroke-width="1.15"/>
<rect x="480.92" y="535.60" width="8.35" height="28.60" fill="#E9C25B" stroke="#141414" stroke-width="1.15"/>
<rect x="489.27" y="534.50" width="8.35" height="29.70" fill="#F2C8CB" stroke="#141414" stroke-width="1.15"/>
<line x1="480.92" x2="480.92" y1="569.00" y2="574.20" stroke="#333" stroke-width="1.3"/>
<text x="480.92" y="585.30" font-size="9.70" stroke="#4D4D4D" stroke-width="0.15" fill="#4D4D4D" text-anchor="middle" textLength="16.87" lengthAdjust="spacingAndGlyphs" >ALP</text>
<rect x="501.34" y="552.70" width="8.35" height="11.50" fill="#DE4F7E" stroke="#141414" stroke-width="1.15"/>
<rect x="509.69" y="557.70" width="8.35" height="6.50" fill="#EE8B28" stroke="#141414" stroke-width="1.15"/>
<rect x="518.04" y="552.70" width="8.35" height="11.50" fill="#E9C25B" stroke="#141414" stroke-width="1.15"/>
<rect x="526.39" y="555.40" width="8.35" height="8.80" fill="#F2C8CB" stroke="#141414" stroke-width="1.15"/>
<line x1="518.04" x2="518.04" y1="569.00" y2="574.20" stroke="#333" stroke-width="1.3"/>
<text x="518.04" y="585.30" font-size="9.70" stroke="#4D4D4D" stroke-width="0.15" fill="#4D4D4D" text-anchor="middle" textLength="19.44" lengthAdjust="spacingAndGlyphs" >GGT</text>
<rect x="51.27" y="439.50" width="488.11" height="22.90" fill="#fff" stroke="#000" stroke-width="1.85"/>
<text x="295.33" y="453.85" font-size="8.37" font-weight="bold" stroke="#1A1A1A" stroke-width="0.3" fill="#1A1A1A" text-anchor="middle" textLength="17.20" lengthAdjust="spacingAndGlyphs" >EAS</text>
<line x1="49.35" x2="540.31" y1="569.00" y2="569.00" stroke="#000" stroke-width="2.0"/>
<line x1="50.30" x2="50.30" y1="463.60" y2="570.00" stroke="#000" stroke-width="2.0"/>
<line x1="44.95" x2="49.35" y1="564.20" y2="564.20" stroke="#333" stroke-width="1.3"/>
<text x="40.70" y="567.60" font-size="9.65" stroke="#4D4D4D" stroke-width="0.15" fill="#4D4D4D" text-anchor="end" textLength="20.26" lengthAdjust="spacingAndGlyphs" >0.00</text>
<line x1="44.95" x2="49.35" y1="545.04" y2="545.04" stroke="#333" stroke-width="1.3"/>
<text x="40.70" y="548.44" font-size="9.65" stroke="#4D4D4D" stroke-width="0.15" fill="#4D4D4D" text-anchor="end" textLength="20.26" lengthAdjust="spacingAndGlyphs" >0.05</text>
<line x1="44.95" x2="49.35" y1="525.88" y2="525.88" stroke="#333" stroke-width="1.3"/>
<text x="40.70" y="529.28" font-size="9.65" stroke="#4D4D4D" stroke-width="0.15" fill="#4D4D4D" text-anchor="end" textLength="20.26" lengthAdjust="spacingAndGlyphs" >0.10</text>
<line x1="44.95" x2="49.35" y1="506.72" y2="506.72" stroke="#333" stroke-width="1.3"/>
<text x="40.70" y="510.12" font-size="9.65" stroke="#4D4D4D" stroke-width="0.15" fill="#4D4D4D" text-anchor="end" textLength="20.26" lengthAdjust="spacingAndGlyphs" >0.15</text>
<line x1="44.95" x2="49.35" y1="487.56" y2="487.56" stroke="#333" stroke-width="1.3"/>
<text x="40.70" y="490.96" font-size="9.65" stroke="#4D4D4D" stroke-width="0.15" fill="#4D4D4D" text-anchor="end" textLength="20.26" lengthAdjust="spacingAndGlyphs" >0.20</text>
<line x1="44.95" x2="49.35" y1="468.40" y2="468.40" stroke="#333" stroke-width="1.3"/>
<text x="40.70" y="471.80" font-size="9.65" stroke="#4D4D4D" stroke-width="0.15" fill="#4D4D4D" text-anchor="end" textLength="20.26" lengthAdjust="spacingAndGlyphs" >0.25</text>
<line x1="50.35" x2="364.98" y1="758.12" y2="758.12" stroke="#DCDCDC" stroke-width="0.9"/>
<line x1="50.35" x2="364.98" y1="734.18" y2="734.18" stroke="#DCDCDC" stroke-width="0.9"/>
<line x1="50.35" x2="364.98" y1="710.23" y2="710.23" stroke="#DCDCDC" stroke-width="0.9"/>
<line x1="50.35" x2="364.98" y1="686.27" y2="686.27" stroke="#DCDCDC" stroke-width="0.9"/>
<line x1="50.35" x2="364.98" y1="770.10" y2="770.10" stroke="#C6C6C6" stroke-width="1.0"/>
<line x1="50.35" x2="364.98" y1="746.15" y2="746.15" stroke="#C6C6C6" stroke-width="1.0"/>
<line x1="50.35" x2="364.98" y1="722.20" y2="722.20" stroke="#C6C6C6" stroke-width="1.0"/>
<line x1="50.35" x2="364.98" y1="698.25" y2="698.25" stroke="#C6C6C6" stroke-width="1.0"/>
<line x1="50.35" x2="364.98" y1="674.30" y2="674.30" stroke="#C6C6C6" stroke-width="1.0"/>
<rect x="61.59" y="711.40" width="16.86" height="58.70" fill="#DE4F7E" stroke="#141414" stroke-width="1.15"/>
<rect x="78.44" y="713.60" width="16.86" height="56.50" fill="#EE8B28" stroke="#141414" stroke-width="1.15"/>
<rect x="95.30" y="718.00" width="16.86" height="52.10" fill="#E9C25B" stroke="#141414" stroke-width="1.15"/>
<rect x="112.15" y="711.60" width="16.86" height="58.50" fill="#F2C8CB" stroke="#141414" stroke-width="1.15"/>
<line x1="95.30" x2="95.30" y1="774.90" y2="780.10" stroke="#333" stroke-width="1.3"/>
<text x="95.30" y="791.20" font-size="9.70" stroke="#4D4D4D" stroke-width="0.15" fill="#4D4D4D" text-anchor="middle" textLength="18.46" lengthAdjust="spacingAndGlyphs" >T2D</text>
<rect x="136.50" y="709.00" width="16.86" height="61.10" fill="#DE4F7E" stroke="#141414" stroke-width="1.15"/>
<rect x="153.35" y="712.00" width="16.86" height="58.10" fill="#EE8B28" stroke="#141414" stroke-width="1.15"/>
<rect x="170.21" y="709.60" width="16.86" height="60.50" fill="#E9C25B" stroke="#141414" stroke-width="1.15"/>
<rect x="187.07" y="712.00" width="16.86" height="58.10" fill="#F2C8CB" stroke="#141414" stroke-width="1.15"/>
<line x1="170.21" x2="170.21" y1="774.90" y2="780.10" stroke="#333" stroke-width="1.3"/>
<text x="170.21" y="791.20" font-size="9.70" stroke="#4D4D4D" stroke-width="0.15" fill="#4D4D4D" text-anchor="middle" textLength="64.56" lengthAdjust="spacingAndGlyphs" >Breast Cancer</text>
<rect x="211.41" y="715.30" width="16.86" height="54.80" fill="#DE4F7E" stroke="#141414" stroke-width="1.15"/>
<rect x="228.27" y="717.40" width="16.86" height="52.70" fill="#EE8B28" stroke="#141414" stroke-width="1.15"/>
<rect x="245.12" y="713.00" width="16.86" height="57.10" fill="#E9C25B" stroke="#141414" stroke-width="1.15"/>
<rect x="261.98" y="716.60" width="16.86" height="53.50" fill="#F2C8CB" stroke="#141414" stroke-width="1.15"/>
<line x1="245.12" x2="245.12" y1="774.90" y2="780.10" stroke="#333" stroke-width="1.3"/>
<text x="245.12" y="791.20" font-size="9.70" stroke="#4D4D4D" stroke-width="0.15" fill="#4D4D4D" text-anchor="middle" textLength="19.69" lengthAdjust="spacingAndGlyphs" >CAD</text>
<rect x="286.32" y="717.30" width="16.86" height="52.80" fill="#DE4F7E" stroke="#141414" stroke-width="1.15"/>
<rect x="303.18" y="721.50" width="16.86" height="48.60" fill="#EE8B28" stroke="#141414" stroke-width="1.15"/>
<rect x="320.04" y="713.70" width="16.86" height="56.40" fill="#E9C25B" stroke="#141414" stroke-width="1.15"/>
<rect x="336.89" y="717.60" width="16.86" height="52.50" fill="#F2C8CB" stroke="#141414" stroke-width="1.15"/>
<line x1="320.04" x2="320.04" y1="774.90" y2="780.10" stroke="#333" stroke-width="1.3"/>
<text x="320.04" y="791.20" font-size="9.70" stroke="#4D4D4D" stroke-width="0.15" fill="#4D4D4D" text-anchor="middle" textLength="57.47" lengthAdjust="spacingAndGlyphs" >Lung Cancer</text>
<rect x="51.27" y="645.40" width="312.78" height="22.90" fill="#fff" stroke="#000" stroke-width="1.85"/>
<text x="207.67" y="659.75" font-size="8.37" font-weight="bold" stroke="#1A1A1A" stroke-width="0.3" fill="#1A1A1A" text-anchor="middle" textLength="17.20" lengthAdjust="spacingAndGlyphs" >EAS</text>
<line x1="49.35" x2="364.98" y1="774.90" y2="774.90" stroke="#000" stroke-width="2.0"/>
<line x1="50.30" x2="50.30" y1="669.50" y2="775.90" stroke="#000" stroke-width="2.0"/>
<line x1="44.95" x2="49.35" y1="770.10" y2="770.10" stroke="#333" stroke-width="1.3"/>
<text x="40.70" y="773.50" font-size="9.65" stroke="#4D4D4D" stroke-width="0.15" fill="#4D4D4D" text-anchor="end" textLength="20.26" lengthAdjust="spacingAndGlyphs" >0.00</text>
<line x1="44.95" x2="49.35" y1="746.15" y2="746.15" stroke="#333" stroke-width="1.3"/>
<text x="40.70" y="749.55" font-size="9.65" stroke="#4D4D4D" stroke-width="0.15" fill="#4D4D4D" text-anchor="end" textLength="20.26" lengthAdjust="spacingAndGlyphs" >0.25</text>
<line x1="44.95" x2="49.35" y1="722.20" y2="722.20" stroke="#333" stroke-width="1.3"/>
<text x="40.70" y="725.60" font-size="9.65" stroke="#4D4D4D" stroke-width="0.15" fill="#4D4D4D" text-anchor="end" textLength="20.26" lengthAdjust="spacingAndGlyphs" >0.50</text>
<line x1="44.95" x2="49.35" y1="698.25" y2="698.25" stroke="#333" stroke-width="1.3"/>
<text x="40.70" y="701.65" font-size="9.65" stroke="#4D4D4D" stroke-width="0.15" fill="#4D4D4D" text-anchor="end" textLength="20.26" lengthAdjust="spacingAndGlyphs" >0.75</text>
<line x1="44.95" x2="49.35" y1="674.30" y2="674.30" stroke="#333" stroke-width="1.3"/>
<text x="40.70" y="677.70" font-size="9.65" stroke="#4D4D4D" stroke-width="0.15" fill="#4D4D4D" text-anchor="end" textLength="20.26" lengthAdjust="spacingAndGlyphs" >1.00</text>
<line x1="375.50" x2="540.31" y1="758.12" y2="758.12" stroke="#DCDCDC" stroke-width="0.9"/>
<line x1="375.50" x2="540.31" y1="734.18" y2="734.18" stroke="#DCDCDC" stroke-width="0.9"/>
<line x1="375.50" x2="540.31" y1="710.23" y2="710.23" stroke="#DCDCDC" stroke-width="0.9"/>
<line x1="375.50" x2="540.31" y1="686.27" y2="686.27" stroke="#DCDCDC" stroke-width="0.9"/>
<line x1="375.50" x2="540.31" y1="770.10" y2="770.10" stroke="#C6C6C6" stroke-width="1.0"/>
<line x1="375.50" x2="540.31" y1="746.15" y2="746.15" stroke="#C6C6C6" stroke-width="1.0"/>
<line x1="375.50" x2="540.31" y1="722.20" y2="722.20" stroke="#C6C6C6" stroke-width="1.0"/>
<line x1="375.50" x2="540.31" y1="698.25" y2="698.25" stroke="#C6C6C6" stroke-width="1.0"/>
<line x1="375.50" x2="540.31" y1="674.30" y2="674.30" stroke="#C6C6C6" stroke-width="1.0"/>
<rect x="386.74" y="716.50" width="16.86" height="53.60" fill="#DE4F7E" stroke="#141414" stroke-width="1.15"/>
<rect x="403.59" y="718.40" width="16.86" height="51.70" fill="#EE8B28" stroke="#141414" stroke-width="1.15"/>
<rect x="420.45" y="717.40" width="16.86" height="52.70" fill="#E9C25B" stroke="#141414" stroke-width="1.15"/>
<rect x="437.31" y="717.40" width="16.86" height="52.70" fill="#F2C8CB" stroke="#141414" stroke-width="1.15"/>
<line x1="420.45" x2="420.45" y1="774.90" y2="780.10" stroke="#333" stroke-width="1.3"/>
<text x="420.45" y="791.20" font-size="9.70" stroke="#4D4D4D" stroke-width="0.15" fill="#4D4D4D" text-anchor="middle" textLength="18.46" lengthAdjust="spacingAndGlyphs" >T2D</text>
<rect x="461.65" y="717.70" width="16.86" height="52.40" fill="#DE4F7E" stroke="#141414" stroke-width="1.15"/>
<rect x="478.51" y="717.70" width="16.86" height="52.40" fill="#EE8B28" stroke="#141414" stroke-width="1.15"/>
<rect x="495.36" y="719.30" width="16.86" height="50.80" fill="#E9C25B" stroke="#141414" stroke-width="1.15"/>
<rect x="512.22" y="719.50" width="16.86" height="50.60" fill="#F2C8CB" stroke="#141414" stroke-width="1.15"/>
<line x1="495.36" x2="495.36" y1="774.90" y2="780.10" stroke="#333" stroke-width="1.3"/>
<text x="495.36" y="791.20" font-size="9.70" stroke="#4D4D4D" stroke-width="0.15" fill="#4D4D4D" text-anchor="middle" textLength="64.56" lengthAdjust="spacingAndGlyphs" >Breast Cancer</text>
<rect x="376.43" y="645.40" width="162.96" height="22.90" fill="#fff" stroke="#000" stroke-width="1.85"/>
<text x="457.91" y="659.75" font-size="8.37" font-weight="bold" stroke="#1A1A1A" stroke-width="0.3" fill="#1A1A1A" text-anchor="middle" textLength="17.59" lengthAdjust="spacingAndGlyphs" >AFR</text>
<line x1="375.50" x2="540.31" y1="774.90" y2="774.90" stroke="#000" stroke-width="2.0"/>
<path d="M57.20,80.40L55.34,81.40L57.20,82.41L56.90,82.92L55.16,81.87L55.16,83.82L54.57,83.82L54.57,81.87L52.83,82.92L52.53,82.41L54.39,81.40L52.53,80.40L52.83,79.88L54.57,80.93L54.57,78.98L55.16,78.98L55.16,80.93L56.90,79.88ZM62.50,80.40L60.64,81.40L62.50,82.41L62.20,82.92L60.46,81.87L60.46,83.82L59.87,83.82L59.87,81.87L58.13,82.92L57.83,82.41L59.69,81.40L57.83,80.40L58.13,79.88L59.87,80.93L59.87,78.98L60.46,78.98L60.46,80.93L62.20,79.88ZM78.26,89.60L76.41,90.60L78.26,91.61L77.96,92.12L76.23,91.07L76.23,93.02L75.64,93.02L75.64,91.07L73.90,92.12L73.60,91.61L75.45,90.60L73.60,89.60L73.90,89.08L75.64,90.13L75.64,88.18L76.23,88.18L76.23,90.13L77.96,89.08ZM87.13,111.70L85.27,112.70L87.13,113.71L86.83,114.22L85.09,113.17L85.09,115.12L84.50,115.12L84.50,113.17L82.76,114.22L82.46,113.71L84.32,112.70L82.46,111.70L82.76,111.18L84.50,112.23L84.50,110.28L85.09,110.28L85.09,112.23L86.83,111.18ZM96.76,109.80L94.90,110.80L96.76,111.81L96.46,112.32L94.72,111.27L94.72,113.22L94.13,113.22L94.13,111.27L92.39,112.32L92.09,111.81L93.95,110.80L92.09,109.80L92.39,109.28L94.13,110.33L94.13,108.38L94.72,108.38L94.72,110.33L96.46,109.28ZM102.06,109.80L100.20,110.80L102.06,111.81L101.76,112.32L100.02,111.27L100.02,113.22L99.43,113.22L99.43,111.27L97.69,112.32L97.39,111.81L99.25,110.80L97.39,109.80L97.69,109.28L99.43,110.33L99.43,108.38L100.02,108.38L100.02,110.33L101.76,109.28ZM114.42,111.50L112.56,112.50L114.42,113.51L114.12,114.02L112.38,112.97L112.38,114.92L111.79,114.92L111.79,112.97L110.05,114.02L109.75,113.51L111.61,112.50L109.75,111.50L110.05,110.98L111.79,112.03L111.79,110.08L112.38,110.08L112.38,112.03L114.12,110.98ZM124.05,110.00L122.19,111.00L124.05,112.01L123.75,112.52L122.01,111.47L122.01,113.42L121.42,113.42L121.42,111.47L119.68,112.52L119.38,112.01L121.24,111.00L119.38,110.00L119.68,109.48L121.42,110.53L121.42,108.58L122.01,108.58L122.01,110.53L123.75,109.48ZM129.35,110.00L127.49,111.00L129.35,112.01L129.05,112.52L127.31,111.47L127.31,113.42L126.72,113.42L126.72,111.47L124.98,112.52L124.68,112.01L126.54,111.00L124.68,110.00L124.98,109.48L126.72,110.53L126.72,108.58L127.31,108.58L127.31,110.53L129.05,109.48ZM141.70,109.50L139.85,110.50L141.70,111.51L141.40,112.02L139.66,110.97L139.66,112.92L139.07,112.92L139.07,110.97L137.34,112.02L137.04,111.51L138.89,110.50L137.04,109.50L137.34,108.98L139.07,110.03L139.07,108.08L139.66,108.08L139.66,110.03L141.40,108.98ZM151.33,107.10L149.47,108.10L151.33,109.11L151.03,109.62L149.29,108.57L149.29,110.52L148.70,110.52L148.70,108.57L146.96,109.62L146.66,109.11L148.52,108.10L146.66,107.10L146.96,106.58L148.70,107.63L148.70,105.68L149.29,105.68L149.29,107.63L151.03,106.58ZM156.63,107.10L154.77,108.10L156.63,109.11L156.33,109.62L154.59,108.57L154.59,110.52L154.00,110.52L154.00,108.57L152.26,109.62L151.96,109.11L153.82,108.10L151.96,107.10L152.26,106.58L154.00,107.63L154.00,105.68L154.59,105.68L154.59,107.63L156.33,106.58ZM182.32,110.70L180.46,111.70L182.32,112.71L182.02,113.22L180.28,112.17L180.28,114.12L179.69,114.12L179.69,112.17L177.95,113.22L177.65,112.71L179.51,111.70L177.65,110.70L177.95,110.18L179.69,111.23L179.69,109.28L180.28,109.28L180.28,111.23L182.02,110.18ZM187.62,110.70L185.76,111.70L187.62,112.71L187.32,113.22L185.58,112.17L185.58,114.12L184.99,114.12L184.99,112.17L183.25,113.22L182.95,112.71L184.81,111.70L182.95,110.70L183.25,110.18L184.99,111.23L184.99,109.28L185.58,109.28L185.58,111.23L187.32,110.18ZM197.25,111.80L195.39,112.80L197.25,113.81L196.95,114.32L195.21,113.27L195.21,115.22L194.62,115.22L194.62,113.27L192.88,114.32L192.58,113.81L194.43,112.80L192.58,111.80L192.88,111.28L194.62,112.33L194.62,110.38L195.21,110.38L195.21,112.33L196.95,111.28ZM212.25,104.30L210.39,105.30L212.25,106.31L211.95,106.82L210.21,105.77L210.21,107.72L209.62,107.72L209.62,105.77L207.88,106.82L207.58,106.31L209.44,105.30L207.58,104.30L207.88,103.78L209.62,104.83L209.62,102.88L210.21,102.88L210.21,104.83L211.95,103.78ZM221.88,99.10L220.02,100.10L221.88,101.11L221.58,101.62L219.84,100.57L219.84,102.52L219.25,102.52L219.25,100.57L217.51,101.62L217.21,101.11L219.07,100.10L217.21,99.10L217.51,98.58L219.25,99.63L219.25,97.68L219.84,97.68L219.84,99.63L221.58,98.58ZM227.18,99.10L225.32,100.10L227.18,101.11L226.88,101.62L225.14,100.57L225.14,102.52L224.55,102.52L224.55,100.57L222.81,101.62L222.51,101.11L224.37,100.10L222.51,99.10L222.81,98.58L224.55,99.63L224.55,97.68L225.14,97.68L225.14,99.63L226.88,98.58ZM239.54,108.80L237.68,109.80L239.54,110.81L239.24,111.32L237.50,110.27L237.50,112.22L236.91,112.22L236.91,110.27L235.17,111.32L234.87,110.81L236.73,109.80L234.87,108.80L235.17,108.28L236.91,109.33L236.91,107.38L237.50,107.38L237.50,109.33L239.24,108.28ZM249.17,102.80L247.31,103.80L249.17,104.81L248.87,105.32L247.13,104.27L247.13,106.22L246.54,106.22L246.54,104.27L244.80,105.32L244.50,104.81L246.36,103.80L244.50,102.80L244.80,102.28L246.54,103.33L246.54,101.38L247.13,101.38L247.13,103.33L248.87,102.28ZM254.47,102.80L252.61,103.80L254.47,104.81L254.17,105.32L252.43,104.27L252.43,106.22L251.84,106.22L251.84,104.27L250.10,105.32L249.80,104.81L251.66,103.80L249.80,102.80L250.10,102.28L251.84,103.33L251.84,101.38L252.43,101.38L252.43,103.33L254.17,102.28ZM264.17,127.80L262.32,128.80L264.17,129.81L263.87,130.32L262.13,129.27L262.13,131.22L261.54,131.22L261.54,129.27L259.81,130.32L259.51,129.81L261.36,128.80L259.51,127.80L259.81,127.28L261.54,128.33L261.54,126.38L262.13,126.38L262.13,128.33L263.87,127.28ZM269.47,127.80L267.62,128.80L269.47,129.81L269.17,130.32L267.43,129.27L267.43,131.22L266.84,131.22L266.84,129.27L265.11,130.32L264.81,129.81L266.66,128.80L264.81,127.80L265.11,127.28L266.84,128.33L266.84,126.38L267.43,126.38L267.43,128.33L269.17,127.28ZM279.10,127.80L277.24,128.80L279.10,129.81L278.80,130.32L277.06,129.27L277.06,131.22L276.47,131.22L276.47,129.27L274.73,130.32L274.43,129.81L276.29,128.80L274.43,127.80L274.73,127.28L276.47,128.33L276.47,126.38L277.06,126.38L277.06,128.33L278.80,127.28ZM307.44,93.80L305.58,94.80L307.44,95.81L307.14,96.32L305.40,95.27L305.40,97.22L304.81,97.22L304.81,95.27L303.07,96.32L302.77,95.81L304.63,94.80L302.77,93.80L303.07,93.28L304.81,94.33L304.81,92.38L305.40,92.38L305.40,94.33L307.14,93.28ZM312.74,93.80L310.88,94.80L312.74,95.81L312.44,96.32L310.70,95.27L310.70,97.22L310.11,97.22L310.11,95.27L308.37,96.32L308.07,95.81L309.93,94.80L308.07,93.80L308.37,93.28L310.11,94.33L310.11,92.38L310.70,92.38L310.70,94.33L312.44,93.28ZM328.50,103.10L326.65,104.10L328.50,105.11L328.20,105.62L326.47,104.57L326.47,106.52L325.88,106.52L325.88,104.57L324.14,105.62L323.84,105.11L325.69,104.10L323.84,103.10L324.14,102.58L325.88,103.63L325.88,101.68L326.47,101.68L326.47,103.63L328.20,102.58ZM334.72,115.50L332.86,116.50L334.72,117.51L334.42,118.02L332.68,116.97L332.68,118.92L332.09,118.92L332.09,116.97L330.35,118.02L330.05,117.51L331.91,116.50L330.05,115.50L330.35,114.98L332.09,116.03L332.09,114.08L332.68,114.08L332.68,116.03L334.42,114.98ZM340.02,115.50L338.16,116.50L340.02,117.51L339.72,118.02L337.98,116.97L337.98,118.92L337.39,118.92L337.39,116.97L335.65,118.02L335.35,117.51L337.21,116.50L335.35,115.50L335.65,114.98L337.39,116.03L337.39,114.08L337.98,114.08L337.98,116.03L339.72,114.98ZM355.79,121.50L353.93,122.50L355.79,123.51L355.49,124.02L353.75,122.97L353.75,124.92L353.16,124.92L353.16,122.97L351.42,124.02L351.12,123.51L352.98,122.50L351.12,121.50L351.42,120.98L353.16,122.03L353.16,120.08L353.75,120.08L353.75,122.03L355.49,120.98ZM362.01,116.70L360.15,117.70L362.01,118.71L361.71,119.22L359.97,118.17L359.97,120.12L359.38,120.12L359.38,118.17L357.64,119.22L357.34,118.71L359.20,117.70L357.34,116.70L357.64,116.18L359.38,117.23L359.38,115.28L359.97,115.28L359.97,117.23L361.71,116.18ZM367.31,116.70L365.45,117.70L367.31,118.71L367.01,119.22L365.27,118.17L365.27,120.12L364.68,120.12L364.68,118.17L362.94,119.22L362.64,118.71L364.50,117.70L362.64,116.70L362.94,116.18L364.68,117.23L364.68,115.28L365.27,115.28L365.27,117.23L367.01,116.18ZM383.08,122.00L381.22,123.00L383.08,124.01L382.78,124.52L381.04,123.47L381.04,125.42L380.45,125.42L380.45,123.47L378.71,124.52L378.41,124.01L380.27,123.00L378.41,122.00L378.71,121.48L380.45,122.53L380.45,120.58L381.04,120.58L381.04,122.53L382.78,121.48ZM389.29,103.60L387.44,104.60L389.29,105.61L388.99,106.12L387.25,105.07L387.25,107.02L386.66,107.02L386.66,105.07L384.93,106.12L384.63,105.61L386.48,104.60L384.63,103.60L384.93,103.08L386.66,104.13L386.66,102.18L387.25,102.18L387.25,104.13L388.99,103.08ZM394.59,103.60L392.74,104.60L394.59,105.61L394.29,106.12L392.55,105.07L392.55,107.02L391.96,107.02L391.96,105.07L390.23,106.12L389.93,105.61L391.78,104.60L389.93,103.60L390.23,103.08L391.96,104.13L391.96,102.18L392.55,102.18L392.55,104.13L394.29,103.08ZM410.36,109.90L408.50,110.90L410.36,111.91L410.06,112.42L408.32,111.37L408.32,113.32L407.73,113.32L407.73,111.37L405.99,112.42L405.69,111.91L407.55,110.90L405.69,109.90L405.99,109.38L407.73,110.43L407.73,108.48L408.32,108.48L408.32,110.43L410.06,109.38ZM432.56,91.30L430.70,92.30L432.56,93.31L432.26,93.82L430.52,92.77L430.52,94.72L429.93,94.72L429.93,92.77L428.19,93.82L427.89,93.31L429.75,92.30L427.89,91.30L428.19,90.78L429.93,91.83L429.93,89.88L430.52,89.88L430.52,91.83L432.26,90.78ZM437.86,91.30L436.00,92.30L437.86,93.31L437.56,93.82L435.82,92.77L435.82,94.72L435.23,94.72L435.23,92.77L433.49,93.82L433.19,93.31L435.05,92.30L433.19,91.30L433.49,90.78L435.23,91.83L435.23,89.88L435.82,89.88L435.82,91.83L437.56,90.78ZM453.62,97.10L451.77,98.10L453.62,99.11L453.32,99.62L451.59,98.57L451.59,100.52L451.00,100.52L451.00,98.57L449.26,99.62L448.96,99.11L450.81,98.10L448.96,97.10L449.26,96.58L451.00,97.63L451.00,95.68L451.59,95.68L451.59,97.63L453.32,96.58ZM459.84,113.80L457.98,114.80L459.84,115.81L459.54,116.32L457.80,115.27L457.80,117.22L457.21,117.22L457.21,115.27L455.47,116.32L455.17,115.81L457.03,114.80L455.17,113.80L455.47,113.28L457.21,114.33L457.21,112.38L457.80,112.38L457.80,114.33L459.54,113.28ZM465.14,113.80L463.28,114.80L465.14,115.81L464.84,116.32L463.10,115.27L463.10,117.22L462.51,117.22L462.51,115.27L460.77,116.32L460.47,115.81L462.33,114.80L460.47,113.80L460.77,113.28L462.51,114.33L462.51,112.38L463.10,112.38L463.10,114.33L464.84,113.28ZM480.91,119.80L479.05,120.80L480.91,121.81L480.61,122.32L478.87,121.27L478.87,123.22L478.28,123.22L478.28,121.27L476.54,122.32L476.24,121.81L478.10,120.80L476.24,119.80L476.54,119.28L478.28,120.33L478.28,118.38L478.87,118.38L478.87,120.33L480.61,119.28ZM487.13,112.40L485.27,113.40L487.13,114.41L486.83,114.92L485.09,113.87L485.09,115.82L484.50,115.82L484.50,113.87L482.76,114.92L482.46,114.41L484.32,113.40L482.46,112.40L482.76,111.88L484.50,112.93L484.50,110.98L485.09,110.98L485.09,112.93L486.83,111.88ZM492.43,112.40L490.57,113.40L492.43,114.41L492.13,114.92L490.39,113.87L490.39,115.82L489.80,115.82L489.80,113.87L488.06,114.92L487.76,114.41L489.62,113.40L487.76,112.40L488.06,111.88L489.80,112.93L489.80,110.98L490.39,110.98L490.39,112.93L492.13,111.88ZM508.20,117.00L506.34,118.00L508.20,119.01L507.90,119.52L506.16,118.47L506.16,120.42L505.57,120.42L505.57,118.47L503.83,119.52L503.53,119.01L505.39,118.00L503.53,117.00L503.83,116.48L505.57,117.53L505.57,115.58L506.16,115.58L506.16,117.53L507.90,116.48ZM514.41,114.70L512.56,115.70L514.41,116.71L514.11,117.22L512.37,116.17L512.37,118.12L511.78,118.12L511.78,116.17L510.05,117.22L509.75,116.71L511.60,115.70L509.75,114.70L510.05,114.18L511.78,115.23L511.78,113.28L512.37,113.28L512.37,115.23L514.11,114.18ZM519.71,114.70L517.86,115.70L519.71,116.71L519.41,117.22L517.67,116.17L517.67,118.12L517.08,118.12L517.08,116.17L515.35,117.22L515.05,116.71L516.90,115.70L515.05,114.70L515.35,114.18L517.08,115.23L517.08,113.28L517.67,113.28L517.67,115.23L519.41,114.18ZM535.48,122.00L533.62,123.00L535.48,124.01L535.18,124.52L533.44,123.47L533.44,125.42L532.85,125.42L532.85,123.47L531.11,124.52L530.81,124.01L532.67,123.00L530.81,122.00L531.11,121.48L532.85,122.53L532.85,120.58L533.44,120.58L533.44,122.53L535.18,121.48ZM62.14,261.70L60.28,262.70L62.14,263.71L61.84,264.22L60.10,263.17L60.10,265.12L59.51,265.12L59.51,263.17L57.77,264.22L57.47,263.71L59.33,262.70L57.47,261.70L57.77,261.18L59.51,262.23L59.51,260.28L60.10,260.28L60.10,262.23L61.84,261.18ZM67.44,261.70L65.58,262.70L67.44,263.71L67.14,264.22L65.40,263.17L65.40,265.12L64.81,265.12L64.81,263.17L63.07,264.22L62.77,263.71L64.63,262.70L62.77,261.70L63.07,261.18L64.81,262.23L64.81,260.28L65.40,260.28L65.40,262.23L67.14,261.18ZM95.90,266.60L94.04,267.60L95.90,268.61L95.60,269.12L93.86,268.07L93.86,270.02L93.27,270.02L93.27,268.07L91.53,269.12L91.23,268.61L93.09,267.60L91.23,266.60L91.53,266.08L93.27,267.13L93.27,265.18L93.86,265.18L93.86,267.13L95.60,266.08ZM110.89,322.80L109.03,323.80L110.89,324.81L110.59,325.32L108.85,324.27L108.85,326.22L108.26,326.22L108.26,324.27L106.52,325.32L106.22,324.81L108.08,323.80L106.22,322.80L106.52,322.28L108.26,323.33L108.26,321.38L108.85,321.38L108.85,323.33L110.59,322.28ZM128.98,320.30L127.12,321.30L128.98,322.31L128.68,322.82L126.94,321.77L126.94,323.72L126.35,323.72L126.35,321.77L124.61,322.82L124.31,322.31L126.17,321.30L124.31,320.30L124.61,319.78L126.35,320.83L126.35,318.88L126.94,318.88L126.94,320.83L128.68,319.78ZM134.28,320.30L132.42,321.30L134.28,322.31L133.98,322.82L132.24,321.77L132.24,323.72L131.65,323.72L131.65,321.77L129.91,322.82L129.61,322.31L131.47,321.30L129.61,320.30L129.91,319.78L131.65,320.83L131.65,318.88L132.24,318.88L132.24,320.83L133.98,319.78ZM156.99,323.80L155.13,324.80L156.99,325.81L156.69,326.32L154.95,325.27L154.95,327.22L154.36,327.22L154.36,325.27L152.62,326.32L152.32,325.81L154.18,324.80L152.32,323.80L152.62,323.28L154.36,324.33L154.36,322.38L154.95,322.38L154.95,324.33L156.69,323.28ZM175.08,321.70L173.22,322.70L175.08,323.71L174.78,324.22L173.04,323.17L173.04,325.12L172.45,325.12L172.45,323.17L170.71,324.22L170.41,323.71L172.27,322.70L170.41,321.70L170.71,321.18L172.45,322.23L172.45,320.28L173.04,320.28L173.04,322.23L174.78,321.18ZM180.38,321.70L178.52,322.70L180.38,323.71L180.08,324.22L178.34,323.17L178.34,325.12L177.75,325.12L177.75,323.17L176.01,324.22L175.71,323.71L177.57,322.70L175.71,321.70L176.01,321.18L177.75,322.23L177.75,320.28L178.34,320.28L178.34,322.23L180.08,321.18ZM203.09,323.40L201.23,324.40L203.09,325.41L202.79,325.92L201.05,324.87L201.05,326.82L200.46,326.82L200.46,324.87L198.72,325.92L198.42,325.41L200.28,324.40L198.42,323.40L198.72,322.88L200.46,323.93L200.46,321.98L201.05,321.98L201.05,323.93L202.79,322.88ZM221.18,322.40L219.32,323.40L221.18,324.41L220.88,324.92L219.14,323.87L219.14,325.82L218.55,325.82L218.55,323.87L216.81,324.92L216.51,324.41L218.37,323.40L216.51,322.40L216.81,321.88L218.55,322.93L218.55,320.98L219.14,320.98L219.14,322.93L220.88,321.88ZM226.48,322.40L224.62,323.40L226.48,324.41L226.18,324.92L224.44,323.87L224.44,325.82L223.85,325.82L223.85,323.87L222.11,324.92L221.81,324.41L223.67,323.40L221.81,322.40L222.11,321.88L223.85,322.93L223.85,320.98L224.44,320.98L224.44,322.93L226.18,321.88ZM246.54,302.20L244.68,303.20L246.54,304.21L246.24,304.72L244.50,303.67L244.50,305.62L243.91,305.62L243.91,303.67L242.17,304.72L241.87,304.21L243.73,303.20L241.87,302.20L242.17,301.68L243.91,302.73L243.91,300.78L244.50,300.78L244.50,302.73L246.24,301.68ZM251.84,302.20L249.98,303.20L251.84,304.21L251.54,304.72L249.80,303.67L249.80,305.62L249.21,305.62L249.21,303.67L247.47,304.72L247.17,304.21L249.03,303.20L247.17,302.20L247.47,301.68L249.21,302.73L249.21,300.78L249.80,300.78L249.80,302.73L251.54,301.68ZM280.30,310.50L278.44,311.50L280.30,312.51L280.00,313.02L278.26,311.97L278.26,313.92L277.67,313.92L277.67,311.97L275.93,313.02L275.63,312.51L277.49,311.50L275.63,310.50L275.93,309.98L277.67,311.03L277.67,309.08L278.26,309.08L278.26,311.03L280.00,309.98ZM312.38,315.90L310.52,316.90L312.38,317.91L312.08,318.42L310.34,317.37L310.34,319.32L309.75,319.32L309.75,317.37L308.01,318.42L307.71,317.91L309.57,316.90L307.71,315.90L308.01,315.38L309.75,316.43L309.75,314.48L310.34,314.48L310.34,316.43L312.08,315.38ZM317.68,315.90L315.82,316.90L317.68,317.91L317.38,318.42L315.64,317.37L315.64,319.32L315.05,319.32L315.05,317.37L313.31,318.42L313.01,317.91L314.87,316.90L313.01,315.90L313.31,315.38L315.05,316.43L315.05,314.48L315.64,314.48L315.64,316.43L317.38,315.38ZM335.77,321.70L333.91,322.70L335.77,323.71L335.47,324.22L333.73,323.17L333.73,325.12L333.14,325.12L333.14,323.17L331.40,324.22L331.10,323.71L332.96,322.70L331.10,321.70L331.40,321.18L333.14,322.23L333.14,320.28L333.73,320.28L333.73,322.23L335.47,321.18ZM358.48,335.90L356.62,336.90L358.48,337.91L358.18,338.42L356.44,337.37L356.44,339.32L355.85,339.32L355.85,337.37L354.11,338.42L353.81,337.91L355.67,336.90L353.81,335.90L354.11,335.38L355.85,336.43L355.85,334.48L356.44,334.48L356.44,336.43L358.18,335.38ZM363.78,335.90L361.92,336.90L363.78,337.91L363.48,338.42L361.74,337.37L361.74,339.32L361.15,339.32L361.15,337.37L359.41,338.42L359.11,337.91L360.97,336.90L359.11,335.90L359.41,335.38L361.15,336.43L361.15,334.48L361.74,334.48L361.74,336.43L363.48,335.38ZM381.87,338.10L380.01,339.10L381.87,340.11L381.57,340.62L379.83,339.57L379.83,341.52L379.24,341.52L379.24,339.57L377.50,340.62L377.20,340.11L379.06,339.10L377.20,338.10L377.50,337.58L379.24,338.63L379.24,336.68L379.83,336.68L379.83,338.63L381.57,337.58ZM407.23,344.90L405.37,345.90L407.23,346.91L406.93,347.42L405.19,346.37L405.19,348.32L404.60,348.32L404.60,346.37L402.86,347.42L402.56,346.91L404.42,345.90L402.56,344.90L402.86,344.38L404.60,345.43L404.60,343.48L405.19,343.48L405.19,345.43L406.93,344.38ZM425.32,342.10L423.46,343.10L425.32,344.11L425.02,344.62L423.28,343.57L423.28,345.52L422.69,345.52L422.69,343.57L420.95,344.62L420.65,344.11L422.51,343.10L420.65,342.10L420.95,341.58L422.69,342.63L422.69,340.68L423.28,340.68L423.28,342.63L425.02,341.58ZM430.62,342.10L428.76,343.10L430.62,344.11L430.32,344.62L428.58,343.57L428.58,345.52L427.99,345.52L427.99,343.57L426.25,344.62L425.95,344.11L427.81,343.10L425.95,342.10L426.25,341.58L427.99,342.63L427.99,340.68L428.58,340.68L428.58,342.63L430.32,341.58ZM453.33,345.80L451.47,346.80L453.33,347.81L453.03,348.32L451.29,347.27L451.29,349.22L450.70,349.22L450.70,347.27L448.96,348.32L448.66,347.81L450.52,346.80L448.66,345.80L448.96,345.28L450.70,346.33L450.70,344.38L451.29,344.38L451.29,346.33L453.03,345.28ZM471.42,343.80L469.56,344.80L471.42,345.81L471.12,346.32L469.38,345.27L469.38,347.22L468.79,347.22L468.79,345.27L467.05,346.32L466.75,345.81L468.61,344.80L466.75,343.80L467.05,343.28L468.79,344.33L468.79,342.38L469.38,342.38L469.38,344.33L471.12,343.28ZM476.72,343.80L474.86,344.80L476.72,345.81L476.42,346.32L474.68,345.27L474.68,347.22L474.09,347.22L474.09,345.27L472.35,346.32L472.05,345.81L473.91,344.80L472.05,343.80L472.35,343.28L474.09,344.33L474.09,342.38L474.68,342.38L474.68,344.33L476.42,343.28ZM496.78,332.70L494.92,333.70L496.78,334.71L496.48,335.22L494.74,334.17L494.74,336.12L494.15,336.12L494.15,334.17L492.41,335.22L492.11,334.71L493.97,333.70L492.11,332.70L492.41,332.18L494.15,333.23L494.15,331.28L494.74,331.28L494.74,333.23L496.48,332.18ZM502.08,332.70L500.22,333.70L502.08,334.71L501.78,335.22L500.04,334.17L500.04,336.12L499.45,336.12L499.45,334.17L497.71,335.22L497.41,334.71L499.27,333.70L497.41,332.70L497.71,332.18L499.45,333.23L499.45,331.28L500.04,331.28L500.04,333.23L501.78,332.18ZM530.54,336.30L528.68,337.30L530.54,338.31L530.24,338.82L528.50,337.77L528.50,339.72L527.91,339.72L527.91,337.77L526.17,338.82L525.87,338.31L527.73,337.30L525.87,336.30L526.17,335.78L527.91,336.83L527.91,334.88L528.50,334.88L528.50,336.83L530.24,335.78ZM59.78,528.80L57.92,529.80L59.78,530.81L59.48,531.32L57.74,530.27L57.74,532.22L57.15,532.22L57.15,530.27L55.41,531.32L55.11,530.81L56.97,529.80L55.11,528.80L55.41,528.28L57.15,529.33L57.15,527.38L57.74,527.38L57.74,529.33L59.48,528.28ZM65.08,528.80L63.22,529.80L65.08,530.81L64.78,531.32L63.04,530.27L63.04,532.22L62.45,532.22L62.45,530.27L60.71,531.32L60.41,530.81L62.27,529.80L60.41,528.80L60.71,528.28L62.45,529.33L62.45,527.38L63.04,527.38L63.04,529.33L64.78,528.28ZM79.13,529.60L77.27,530.60L79.13,531.61L78.83,532.12L77.09,531.07L77.09,533.02L76.50,533.02L76.50,531.07L74.76,532.12L74.46,531.61L76.32,530.60L74.46,529.60L74.76,529.08L76.50,530.13L76.50,528.18L77.09,528.18L77.09,530.13L78.83,529.08ZM99.55,538.50L97.69,539.50L99.55,540.51L99.25,541.02L97.51,539.97L97.51,541.92L96.92,541.92L96.92,539.97L95.18,541.02L94.88,540.51L96.74,539.50L94.88,538.50L95.18,537.98L96.92,539.03L96.92,537.08L97.51,537.08L97.51,539.03L99.25,537.98ZM113.60,537.10L111.74,538.10L113.60,539.11L113.30,539.62L111.56,538.57L111.56,540.52L110.97,540.52L110.97,538.57L109.23,539.62L108.93,539.11L110.79,538.10L108.93,537.10L109.23,536.58L110.97,537.63L110.97,535.68L111.56,535.68L111.56,537.63L113.30,536.58ZM118.90,537.10L117.04,538.10L118.90,539.11L118.60,539.62L116.86,538.57L116.86,540.52L116.27,540.52L116.27,538.57L114.53,539.62L114.23,539.11L116.09,538.10L114.23,537.10L114.53,536.58L116.27,537.63L116.27,535.68L116.86,535.68L116.86,537.63L118.60,536.58ZM136.66,522.70L134.81,523.70L136.66,524.71L136.36,525.22L134.62,524.17L134.62,526.12L134.03,526.12L134.03,524.17L132.30,525.22L132.00,524.71L133.85,523.70L132.00,522.70L132.30,522.18L134.03,523.23L134.03,521.28L134.62,521.28L134.62,523.23L136.36,522.18ZM150.72,522.40L148.86,523.40L150.72,524.41L150.42,524.92L148.68,523.87L148.68,525.82L148.09,525.82L148.09,523.87L146.35,524.92L146.05,524.41L147.91,523.40L146.05,522.40L146.35,521.88L148.09,522.93L148.09,520.98L148.68,520.98L148.68,522.93L150.42,521.88ZM156.02,522.40L154.16,523.40L156.02,524.41L155.72,524.92L153.98,523.87L153.98,525.82L153.39,525.82L153.39,523.87L151.65,524.92L151.35,524.41L153.21,523.40L151.35,522.40L151.65,521.88L153.39,522.93L153.39,520.98L153.98,520.98L153.98,522.93L155.72,521.88ZM173.78,528.20L171.92,529.20L173.78,530.21L173.48,530.72L171.74,529.67L171.74,531.62L171.15,531.62L171.15,529.67L169.41,530.72L169.11,530.21L170.97,529.20L169.11,528.20L169.41,527.68L171.15,528.73L171.15,526.78L171.74,526.78L171.74,528.73L173.48,527.68ZM187.84,527.10L185.98,528.10L187.84,529.11L187.54,529.62L185.80,528.57L185.80,530.52L185.21,530.52L185.21,528.57L183.47,529.62L183.17,529.11L185.03,528.10L183.17,527.10L183.47,526.58L185.21,527.63L185.21,525.68L185.80,525.68L185.80,527.63L187.54,526.58ZM193.14,527.10L191.28,528.10L193.14,529.11L192.84,529.62L191.10,528.57L191.10,530.52L190.51,530.52L190.51,528.57L188.77,529.62L188.47,529.11L190.33,528.10L188.47,527.10L188.77,526.58L190.51,527.63L190.51,525.68L191.10,525.68L191.10,527.63L192.84,526.58ZM208.25,544.00L206.39,545.00L208.25,546.01L207.95,546.52L206.21,545.47L206.21,547.42L205.62,547.42L205.62,545.47L203.88,546.52L203.58,546.01L205.44,545.00L203.58,544.00L203.88,543.48L205.62,544.53L205.62,542.58L206.21,542.58L206.21,544.53L207.95,543.48ZM213.55,544.00L211.69,545.00L213.55,546.01L213.25,546.52L211.51,545.47L211.51,547.42L210.92,547.42L210.92,545.47L209.18,546.52L208.88,546.01L210.74,545.00L208.88,544.00L209.18,543.48L210.92,544.53L210.92,542.58L211.51,542.58L211.51,544.53L213.25,543.48ZM227.60,544.60L225.75,545.60L227.60,546.61L227.30,547.12L225.56,546.07L225.56,548.02L224.97,548.02L224.97,546.07L223.24,547.12L222.94,546.61L224.79,545.60L222.94,544.60L223.24,544.08L224.97,545.13L224.97,543.18L225.56,543.18L225.56,545.13L227.30,544.08ZM248.02,527.90L246.16,528.90L248.02,529.91L247.72,530.42L245.98,529.37L245.98,531.32L245.39,531.32L245.39,529.37L243.65,530.42L243.35,529.91L245.21,528.90L243.35,527.90L243.65,527.38L245.39,528.43L245.39,526.48L245.98,526.48L245.98,528.43L247.72,527.38ZM262.07,524.40L260.21,525.40L262.07,526.41L261.77,526.92L260.03,525.87L260.03,527.82L259.44,527.82L259.44,525.87L257.70,526.92L257.40,526.41L259.26,525.40L257.40,524.40L257.70,523.88L259.44,524.93L259.44,522.98L260.03,522.98L260.03,524.93L261.77,523.88ZM267.37,524.40L265.51,525.40L267.37,526.41L267.07,526.92L265.33,525.87L265.33,527.82L264.74,527.82L264.74,525.87L263.00,526.92L262.70,526.41L264.56,525.40L262.70,524.40L263.00,523.88L264.74,524.93L264.74,522.98L265.33,522.98L265.33,524.93L267.07,523.88ZM285.14,539.90L283.28,540.90L285.14,541.91L284.84,542.42L283.10,541.37L283.10,543.32L282.51,543.32L282.51,541.37L280.77,542.42L280.47,541.91L282.33,540.90L280.47,539.90L280.77,539.38L282.51,540.43L282.51,538.48L283.10,538.48L283.10,540.43L284.84,539.38ZM299.19,538.70L297.33,539.70L299.19,540.71L298.89,541.22L297.15,540.17L297.15,542.12L296.56,542.12L296.56,540.17L294.82,541.22L294.52,540.71L296.38,539.70L294.52,538.70L294.82,538.18L296.56,539.23L296.56,537.28L297.15,537.28L297.15,539.23L298.89,538.18ZM304.49,538.70L302.63,539.70L304.49,540.71L304.19,541.22L302.45,540.17L302.45,542.12L301.86,542.12L301.86,540.17L300.12,541.22L299.82,540.71L301.68,539.70L299.82,538.70L300.12,538.18L301.86,539.23L301.86,537.28L302.45,537.28L302.45,539.23L304.19,538.18ZM319.61,535.50L317.75,536.50L319.61,537.51L319.30,538.02L317.57,536.97L317.57,538.92L316.98,538.92L316.98,536.97L315.24,538.02L314.94,537.51L316.79,536.50L314.94,535.50L315.24,534.98L316.98,536.03L316.98,534.08L317.57,534.08L317.57,536.03L319.30,534.98ZM324.91,535.50L323.05,536.50L324.91,537.51L324.60,538.02L322.87,536.97L322.87,538.92L322.28,538.92L322.28,536.97L320.54,538.02L320.24,537.51L322.09,536.50L320.24,535.50L320.54,534.98L322.28,536.03L322.28,534.08L322.87,534.08L322.87,536.03L324.60,534.98ZM338.96,535.80L337.10,536.80L338.96,537.81L338.66,538.32L336.92,537.27L336.92,539.22L336.33,539.22L336.33,537.27L334.59,538.32L334.29,537.81L336.15,536.80L334.29,535.80L334.59,535.28L336.33,536.33L336.33,534.38L336.92,534.38L336.92,536.33L338.66,535.28ZM356.72,537.00L354.87,538.00L356.72,539.01L356.42,539.52L354.68,538.47L354.68,540.42L354.09,540.42L354.09,538.47L352.35,539.52L352.05,539.01L353.91,538.00L352.05,537.00L352.35,536.48L354.09,537.53L354.09,535.58L354.68,535.58L354.68,537.53L356.42,536.48ZM362.02,537.00L360.17,538.00L362.02,539.01L361.72,539.52L359.98,538.47L359.98,540.42L359.39,540.42L359.39,538.47L357.65,539.52L357.35,539.01L359.21,538.00L357.35,537.00L357.65,536.48L359.39,537.53L359.39,535.58L359.98,535.58L359.98,537.53L361.72,536.48ZM376.08,537.80L374.22,538.80L376.08,539.81L375.78,540.32L374.04,539.27L374.04,541.22L373.45,541.22L373.45,539.27L371.71,540.32L371.41,539.81L373.27,538.80L371.41,537.80L371.71,537.28L373.45,538.33L373.45,536.38L374.04,536.38L374.04,538.33L375.78,537.28ZM393.84,533.30L391.98,534.30L393.84,535.31L393.54,535.82L391.80,534.77L391.80,536.72L391.21,536.72L391.21,534.77L389.47,535.82L389.17,535.31L391.03,534.30L389.17,533.30L389.47,532.78L391.21,533.83L391.21,531.88L391.80,531.88L391.80,533.83L393.54,532.78ZM399.14,533.30L397.28,534.30L399.14,535.31L398.84,535.82L397.10,534.77L397.10,536.72L396.51,536.72L396.51,534.77L394.77,535.82L394.47,535.31L396.33,534.30L394.47,533.30L394.77,532.78L396.51,533.83L396.51,531.88L397.10,531.88L397.10,533.83L398.84,532.78ZM421.55,535.50L419.69,536.50L421.55,537.51L421.25,538.02L419.51,536.97L419.51,538.92L418.92,538.92L418.92,536.97L417.18,538.02L416.88,537.51L418.74,536.50L416.88,535.50L417.18,534.98L418.92,536.03L418.92,534.08L419.51,534.08L419.51,536.03L421.25,534.98ZM433.61,545.40L431.75,546.40L433.61,547.41L433.31,547.92L431.57,546.87L431.57,548.82L430.98,548.82L430.98,546.87L429.24,547.92L428.94,547.41L430.80,546.40L428.94,545.40L429.24,544.88L430.98,545.93L430.98,543.98L431.57,543.98L431.57,545.93L433.31,544.88ZM447.66,545.20L445.80,546.20L447.66,547.21L447.36,547.72L445.62,546.67L445.62,548.62L445.03,548.62L445.03,546.67L443.29,547.72L442.99,547.21L444.85,546.20L442.99,545.20L443.29,544.68L445.03,545.73L445.03,543.78L445.62,543.78L445.62,545.73L447.36,544.68ZM452.96,545.20L451.10,546.20L452.96,547.21L452.66,547.72L450.92,546.67L450.92,548.62L450.33,548.62L450.33,546.67L448.59,547.72L448.29,547.21L450.15,546.20L448.29,545.20L448.59,544.68L450.33,545.73L450.33,543.78L450.92,543.78L450.92,545.73L452.66,544.68ZM468.08,522.70L466.22,523.70L468.08,524.71L467.78,525.22L466.04,524.17L466.04,526.12L465.45,526.12L465.45,524.17L463.71,525.22L463.41,524.71L465.27,523.70L463.41,522.70L463.71,522.18L465.45,523.23L465.45,521.28L466.04,521.28L466.04,523.23L467.78,522.18ZM473.38,522.70L471.52,523.70L473.38,524.71L473.08,525.22L471.34,524.17L471.34,526.12L470.75,526.12L470.75,524.17L469.01,525.22L468.71,524.71L470.57,523.70L468.71,522.70L469.01,522.18L470.75,523.23L470.75,521.28L471.34,521.28L471.34,523.23L473.08,522.18ZM495.78,527.70L493.92,528.70L495.78,529.71L495.48,530.22L493.74,529.17L493.74,531.12L493.15,531.12L493.15,529.17L491.41,530.22L491.11,529.71L492.97,528.70L491.11,527.70L491.41,527.18L493.15,528.23L493.15,526.28L493.74,526.28L493.74,528.23L495.48,527.18ZM505.20,545.90L503.34,546.90L505.20,547.91L504.90,548.42L503.16,547.37L503.16,549.32L502.57,549.32L502.57,547.37L500.83,548.42L500.53,547.91L502.39,546.90L500.53,545.90L500.83,545.38L502.57,546.43L502.57,544.48L503.16,544.48L503.16,546.43L504.90,545.38ZM510.50,545.90L508.64,546.90L510.50,547.91L510.20,548.42L508.46,547.37L508.46,549.32L507.87,549.32L507.87,547.37L506.13,548.42L505.83,547.91L507.69,546.90L505.83,545.90L506.13,545.38L507.87,546.43L507.87,544.48L508.46,544.48L508.46,546.43L510.20,545.38ZM524.55,545.90L522.69,546.90L524.55,547.91L524.25,548.42L522.51,547.37L522.51,549.32L521.92,549.32L521.92,547.37L520.18,548.42L519.88,547.91L521.74,546.90L519.88,545.90L520.18,545.38L521.92,546.43L521.92,544.48L522.51,544.48L522.51,546.43L524.25,545.38ZM69.70,704.60L67.84,705.60L69.70,706.61L69.40,707.12L67.66,706.07L67.66,708.02L67.07,708.02L67.07,706.07L65.33,707.12L65.03,706.61L66.89,705.60L65.03,704.60L65.33,704.08L67.07,705.13L67.07,703.18L67.66,703.18L67.66,705.13L69.40,704.08ZM75.00,704.60L73.14,705.60L75.00,706.61L74.70,707.12L72.96,706.07L72.96,708.02L72.37,708.02L72.37,706.07L70.63,707.12L70.33,706.61L72.19,705.60L70.33,704.60L70.63,704.08L72.37,705.13L72.37,703.18L72.96,703.18L72.96,705.13L74.70,704.08ZM122.91,704.80L121.06,705.80L122.91,706.81L122.61,707.32L120.88,706.27L120.88,708.22L120.29,708.22L120.29,706.27L118.55,707.32L118.25,706.81L120.10,705.80L118.25,704.80L118.55,704.28L120.29,705.33L120.29,703.38L120.88,703.38L120.88,705.33L122.61,704.28ZM144.61,702.20L142.75,703.20L144.61,704.21L144.31,704.72L142.57,703.67L142.57,705.62L141.98,705.62L141.98,703.67L140.24,704.72L139.94,704.21L141.80,703.20L139.94,702.20L140.24,701.68L141.98,702.73L141.98,700.78L142.57,700.78L142.57,702.73L144.31,701.68ZM149.91,702.20L148.05,703.20L149.91,704.21L149.61,704.72L147.87,703.67L147.87,705.62L147.28,705.62L147.28,703.67L145.54,704.72L145.24,704.21L147.10,703.20L145.24,702.20L145.54,701.68L147.28,702.73L147.28,700.78L147.87,700.78L147.87,702.73L149.61,701.68ZM180.97,702.80L179.11,703.80L180.97,704.81L180.67,705.32L178.93,704.27L178.93,706.22L178.34,706.22L178.34,704.27L176.60,705.32L176.30,704.81L178.16,703.80L176.30,702.80L176.60,702.28L178.34,703.33L178.34,701.38L178.93,701.38L178.93,703.33L180.67,702.28ZM222.17,708.50L220.32,709.50L222.17,710.51L221.87,711.02L220.13,709.97L220.13,711.92L219.54,711.92L219.54,709.97L217.81,711.02L217.51,710.51L219.36,709.50L217.51,708.50L217.81,707.98L219.54,709.03L219.54,707.08L220.13,707.08L220.13,709.03L221.87,707.98ZM253.23,706.20L251.38,707.20L253.23,708.21L252.93,708.72L251.20,707.67L251.20,709.62L250.61,709.62L250.61,707.67L248.87,708.72L248.57,708.21L250.42,707.20L248.57,706.20L248.87,705.68L250.61,706.73L250.61,704.78L251.20,704.78L251.20,706.73L252.93,705.68ZM258.53,706.20L256.68,707.20L258.53,708.21L258.23,708.72L256.50,707.67L256.50,709.62L255.91,709.62L255.91,707.67L254.17,708.72L253.87,708.21L255.72,707.20L253.87,706.20L254.17,705.68L255.91,706.73L255.91,704.78L256.50,704.78L256.50,706.73L258.23,705.68ZM297.09,710.50L295.23,711.50L297.09,712.51L296.79,713.02L295.05,711.97L295.05,713.92L294.46,713.92L294.46,711.97L292.72,713.02L292.42,712.51L294.28,711.50L292.42,710.50L292.72,709.98L294.46,711.03L294.46,709.08L295.05,709.08L295.05,711.03L296.79,709.98ZM328.15,706.90L326.29,707.90L328.15,708.91L327.85,709.42L326.11,708.37L326.11,710.32L325.52,710.32L325.52,708.37L323.78,709.42L323.48,708.91L325.34,707.90L323.48,706.90L323.78,706.38L325.52,707.43L325.52,705.48L326.11,705.48L326.11,707.43L327.85,706.38ZM333.45,706.90L331.59,707.90L333.45,708.91L333.15,709.42L331.41,708.37L331.41,710.32L330.82,710.32L330.82,708.37L329.08,709.42L328.78,708.91L330.64,707.90L328.78,706.90L329.08,706.38L330.82,707.43L330.82,705.48L331.41,705.48L331.41,707.43L333.15,706.38ZM394.85,709.70L392.99,710.70L394.85,711.71L394.55,712.22L392.81,711.17L392.81,713.12L392.22,713.12L392.22,711.17L390.48,712.22L390.18,711.71L392.04,710.70L390.18,709.70L390.48,709.18L392.22,710.23L392.22,708.28L392.81,708.28L392.81,710.23L394.55,709.18ZM400.15,709.70L398.29,710.70L400.15,711.71L399.85,712.22L398.11,711.17L398.11,713.12L397.52,713.12L397.52,711.17L395.78,712.22L395.48,711.71L397.34,710.70L395.48,709.70L395.78,709.18L397.52,710.23L397.52,708.28L398.11,708.28L398.11,710.23L399.85,709.18ZM431.21,710.60L429.35,711.60L431.21,712.61L430.91,713.12L429.17,712.07L429.17,714.02L428.58,714.02L428.58,712.07L426.84,713.12L426.54,712.61L428.40,711.60L426.54,710.60L426.84,710.08L428.58,711.13L428.58,709.18L429.17,709.18L429.17,711.13L430.91,710.08ZM469.76,710.90L467.91,711.90L469.76,712.91L469.46,713.42L467.72,712.37L467.72,714.32L467.13,714.32L467.13,712.37L465.40,713.42L465.10,712.91L466.95,711.90L465.10,710.90L465.40,710.38L467.13,711.43L467.13,709.48L467.72,709.48L467.72,711.43L469.46,710.38ZM475.06,710.90L473.21,711.90L475.06,712.91L474.76,713.42L473.02,712.37L473.02,714.32L472.43,714.32L472.43,712.37L470.70,713.42L470.40,712.91L472.25,711.90L470.40,710.90L470.70,710.38L472.43,711.43L472.43,709.48L473.02,709.48L473.02,711.43L474.76,710.38ZM489.27,710.90L487.41,711.90L489.27,712.91L488.97,713.42L487.23,712.37L487.23,714.32L486.64,714.32L486.64,712.37L484.90,713.42L484.60,712.91L486.46,711.90L484.60,710.90L484.90,710.38L486.64,711.43L486.64,709.48L487.23,709.48L487.23,711.43L488.97,710.38Z" fill="#FF0000" stroke="#FF0000" stroke-width="0.3" stroke-linejoin="round"/>
<text x="1.50" y="8.70" font-size="12.51" font-weight="bold" stroke="#000" stroke-width="0.3" fill="#000" text-anchor="start" textLength="7.96" lengthAdjust="spacingAndGlyphs" >a</text>
<text x="50.60" y="13.00" font-size="11.77" font-weight="bold" stroke="#000" stroke-width="0.3" fill="#000" text-anchor="start" textLength="71.29" lengthAdjust="spacingAndGlyphs" >GLGC traits</text>
<text x="1.50" y="215.00" font-size="12.51" font-weight="bold" stroke="#000" stroke-width="0.3" fill="#000" text-anchor="start" textLength="8.45" lengthAdjust="spacingAndGlyphs" >b</text>
<text x="50.60" y="219.30" font-size="11.77" font-weight="bold" stroke="#000" stroke-width="0.3" fill="#000" text-anchor="start" textLength="70.25" lengthAdjust="spacingAndGlyphs" >PAGE traits</text>
<text x="1.50" y="421.40" font-size="12.51" font-weight="bold" stroke="#000" stroke-width="0.3" fill="#000" text-anchor="start" textLength="6.99" lengthAdjust="spacingAndGlyphs" >c</text>
<text x="50.60" y="425.70" font-size="11.77" font-weight="bold" stroke="#000" stroke-width="0.3" fill="#000" text-anchor="start" textLength="58.90" lengthAdjust="spacingAndGlyphs" >BBJ traits</text>
<text x="1.50" y="627.30" font-size="12.51" font-weight="bold" stroke="#000" stroke-width="0.3" fill="#000" text-anchor="start" textLength="8.45" lengthAdjust="spacingAndGlyphs" >d</text>
<text x="50.60" y="631.60" font-size="11.77" font-weight="bold" stroke="#000" stroke-width="0.3" fill="#000" text-anchor="start" textLength="78.22" lengthAdjust="spacingAndGlyphs" >Binary traits</text>
<text x="15.10" y="103.60" font-size="11.24" stroke="#000" stroke-width="0.15" fill="#000" text-anchor="middle" textLength="11.61" lengthAdjust="spacingAndGlyphs" transform="rotate(-90 15.1 103.60)">R²</text>
<text x="15.10" y="309.90" font-size="11.24" stroke="#000" stroke-width="0.15" fill="#000" text-anchor="middle" textLength="11.61" lengthAdjust="spacingAndGlyphs" transform="rotate(-90 15.1 309.90)">R²</text>
<text x="15.10" y="516.30" font-size="11.24" stroke="#000" stroke-width="0.15" fill="#000" text-anchor="middle" textLength="11.61" lengthAdjust="spacingAndGlyphs" transform="rotate(-90 15.1 516.30)">R²</text>
<text x="15.10" y="722.20" font-size="11.24" stroke="#000" stroke-width="0.15" fill="#000" text-anchor="middle" textLength="22.41" lengthAdjust="spacingAndGlyphs" transform="rotate(-90 15.1 722.20)">AUC</text>
<path d="M566.88,113.86L565.14,114.80L566.88,115.74L566.60,116.22L564.98,115.24L564.98,117.06L564.42,117.06L564.42,115.24L562.80,116.22L562.52,115.74L564.26,114.80L562.52,113.86L562.80,113.38L564.42,114.36L564.42,112.54L564.98,112.54L564.98,114.36L566.60,113.38ZM572.08,113.86L570.34,114.80L572.08,115.74L571.80,116.22L570.18,115.24L570.18,117.06L569.62,117.06L569.62,115.24L568.00,116.22L567.72,115.74L569.46,114.80L567.72,113.86L568.00,113.38L569.62,114.36L569.62,112.54L570.18,112.54L570.18,114.36L571.80,113.38ZM569.88,131.56L568.14,132.50L569.88,133.44L569.60,133.92L567.98,132.94L567.98,134.76L567.42,134.76L567.42,132.94L565.80,133.92L565.52,133.44L567.26,132.50L565.52,131.56L565.80,131.08L567.42,132.06L567.42,130.24L567.98,130.24L567.98,132.06L569.60,131.08Z" fill="#FF0000"/>
<text x="576.00" y="119.70" font-size="10.97" stroke="#222" stroke-width="0.15" fill="#222" text-anchor="start" textLength="65.03" lengthAdjust="spacingAndGlyphs" >Best Method</text>
<text x="576.40" y="137.40" font-size="11.10" stroke="#222" stroke-width="0.15" fill="#222" text-anchor="start" textLength="107.68" lengthAdjust="spacingAndGlyphs" >Second Best Method</text>
<text x="568.00" y="343.40" font-size="11.71" font-weight="bold" stroke="#000" stroke-width="0.3" fill="#000" text-anchor="start" textLength="80.80" lengthAdjust="spacingAndGlyphs" >Auto method</text>
<rect x="568.9" y="351.90" width="29.9" height="30" fill="#DE4F7E"/>
<text x="605.60" y="370.20" font-size="9.91" stroke="#222" stroke-width="0.15" fill="#222" text-anchor="start" textLength="63.15" lengthAdjust="spacingAndGlyphs" >JointPRS-auto</text>
<rect x="568.9" y="384.35" width="29.9" height="30" fill="#EE8B28"/>
<text x="605.60" y="402.65" font-size="9.91" stroke="#222" stroke-width="0.15" fill="#222" text-anchor="start" textLength="29.71" lengthAdjust="spacingAndGlyphs" >XPASS</text>
<rect x="568.9" y="416.80" width="29.9" height="30" fill="#E9C25B"/>
<text x="605.60" y="435.10" font-size="9.91" stroke="#222" stroke-width="0.15" fill="#222" text-anchor="start" textLength="31.68" lengthAdjust="spacingAndGlyphs" >SDPRX</text>
<rect x="568.9" y="449.25" width="29.9" height="30" fill="#F2C8CB"/>
<text x="605.60" y="467.55" font-size="9.91" stroke="#222" stroke-width="0.15" fill="#222" text-anchor="start" textLength="63.86" lengthAdjust="spacingAndGlyphs" >PRS-CSx-auto</text>
</g>
</svg></body></html>
